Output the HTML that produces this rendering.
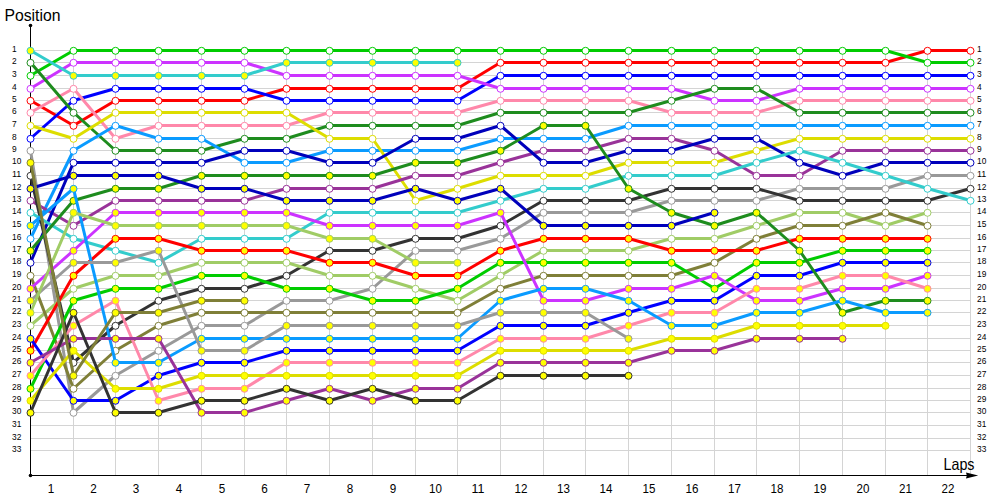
<!DOCTYPE html>
<html><head><meta charset="utf-8"><style>html,body{margin:0;padding:0;background:#fff;width:1000px;height:500px;overflow:hidden}svg{display:block}</style></head>
<body><svg width="1000" height="500" viewBox="0 0 1000 500">
<rect width="1000" height="500" fill="#fff"/>
<path d="M30.5 50.5H970.5M30.5 62.5H970.5M30.5 75.5H970.5M30.5 88.5H970.5M30.5 100.5H970.5M30.5 112.5H970.5M30.5 125.5H970.5M30.5 138.5H970.5M30.5 150.5H970.5M30.5 162.5H970.5M30.5 175.5H970.5M30.5 188.5H970.5M30.5 200.5H970.5M30.5 212.5H970.5M30.5 225.5H970.5M30.5 238.5H970.5M30.5 250.5H970.5M30.5 262.5H970.5M30.5 275.5H970.5M30.5 288.5H970.5M30.5 300.5H970.5M30.5 312.5H970.5M30.5 325.5H970.5M30.5 338.5H970.5M30.5 350.5H970.5M30.5 362.5H970.5M30.5 375.5H970.5M30.5 388.5H970.5M30.5 400.5H970.5M30.5 412.5H970.5M30.5 425.5H970.5M30.5 438.5H970.5M30.5 450.5H970.5M73.5 50V475M115.5 50V475M158.5 50V475M201.5 50V475M244.5 50V475M286.5 50V475M329.5 50V475M372.5 50V475M415.5 50V475M457.5 50V475M500.5 50V475M543.5 50V475M585.5 50V475M628.5 50V475M671.5 50V475M714.5 50V475M756.5 50V475M799.5 50V475M842.5 50V475M885.5 50V475M927.5 50V475M970.5 50V475" stroke="#d4d4d4" stroke-width="1" fill="none"/>
<path d="M30.5 25.5V475.5H968" stroke="#000" stroke-width="1" fill="none"/>
<circle cx="30.5" cy="25.5" r="1.8" fill="#000"/><circle cx="30.5" cy="475.5" r="1.8" fill="#000"/>
<path d="M966 472.6L978.2 475.5L966 478.4L966.8 475.5Z" fill="#000"/>
<g font-family="Liberation Sans" font-size="9.8" fill="#000"><text x="12" y="52.1" textLength="4.65" lengthAdjust="spacingAndGlyphs">1</text><text x="977" y="52.1" textLength="4.65" lengthAdjust="spacingAndGlyphs">1</text><text x="12" y="64.1" textLength="4.65" lengthAdjust="spacingAndGlyphs">2</text><text x="977" y="64.1" textLength="4.65" lengthAdjust="spacingAndGlyphs">2</text><text x="12" y="77.1" textLength="4.65" lengthAdjust="spacingAndGlyphs">3</text><text x="977" y="77.1" textLength="4.65" lengthAdjust="spacingAndGlyphs">3</text><text x="12" y="90.1" textLength="4.65" lengthAdjust="spacingAndGlyphs">4</text><text x="977" y="90.1" textLength="4.65" lengthAdjust="spacingAndGlyphs">4</text><text x="12" y="102.1" textLength="4.65" lengthAdjust="spacingAndGlyphs">5</text><text x="977" y="102.1" textLength="4.65" lengthAdjust="spacingAndGlyphs">5</text><text x="12" y="114.1" textLength="4.65" lengthAdjust="spacingAndGlyphs">6</text><text x="977" y="114.1" textLength="4.65" lengthAdjust="spacingAndGlyphs">6</text><text x="12" y="127.1" textLength="4.65" lengthAdjust="spacingAndGlyphs">7</text><text x="977" y="127.1" textLength="4.65" lengthAdjust="spacingAndGlyphs">7</text><text x="12" y="140.1" textLength="4.65" lengthAdjust="spacingAndGlyphs">8</text><text x="977" y="140.1" textLength="4.65" lengthAdjust="spacingAndGlyphs">8</text><text x="12" y="152.1" textLength="4.65" lengthAdjust="spacingAndGlyphs">9</text><text x="977" y="152.1" textLength="4.65" lengthAdjust="spacingAndGlyphs">9</text><text x="12" y="164.1" textLength="9.3" lengthAdjust="spacingAndGlyphs">10</text><text x="977" y="164.1" textLength="9.3" lengthAdjust="spacingAndGlyphs">10</text><text x="12" y="177.1" textLength="9.3" lengthAdjust="spacingAndGlyphs">11</text><text x="977" y="177.1" textLength="9.3" lengthAdjust="spacingAndGlyphs">11</text><text x="12" y="190.1" textLength="9.3" lengthAdjust="spacingAndGlyphs">12</text><text x="977" y="190.1" textLength="9.3" lengthAdjust="spacingAndGlyphs">12</text><text x="12" y="202.1" textLength="9.3" lengthAdjust="spacingAndGlyphs">13</text><text x="977" y="202.1" textLength="9.3" lengthAdjust="spacingAndGlyphs">13</text><text x="12" y="214.1" textLength="9.3" lengthAdjust="spacingAndGlyphs">14</text><text x="977" y="214.1" textLength="9.3" lengthAdjust="spacingAndGlyphs">14</text><text x="12" y="227.1" textLength="9.3" lengthAdjust="spacingAndGlyphs">15</text><text x="977" y="227.1" textLength="9.3" lengthAdjust="spacingAndGlyphs">15</text><text x="12" y="240.1" textLength="9.3" lengthAdjust="spacingAndGlyphs">16</text><text x="977" y="240.1" textLength="9.3" lengthAdjust="spacingAndGlyphs">16</text><text x="12" y="252.1" textLength="9.3" lengthAdjust="spacingAndGlyphs">17</text><text x="977" y="252.1" textLength="9.3" lengthAdjust="spacingAndGlyphs">17</text><text x="12" y="264.1" textLength="9.3" lengthAdjust="spacingAndGlyphs">18</text><text x="977" y="264.1" textLength="9.3" lengthAdjust="spacingAndGlyphs">18</text><text x="12" y="277.1" textLength="9.3" lengthAdjust="spacingAndGlyphs">19</text><text x="977" y="277.1" textLength="9.3" lengthAdjust="spacingAndGlyphs">19</text><text x="12" y="290.1" textLength="9.3" lengthAdjust="spacingAndGlyphs">20</text><text x="977" y="290.1" textLength="9.3" lengthAdjust="spacingAndGlyphs">20</text><text x="12" y="302.1" textLength="9.3" lengthAdjust="spacingAndGlyphs">21</text><text x="977" y="302.1" textLength="9.3" lengthAdjust="spacingAndGlyphs">21</text><text x="12" y="314.1" textLength="9.3" lengthAdjust="spacingAndGlyphs">22</text><text x="977" y="314.1" textLength="9.3" lengthAdjust="spacingAndGlyphs">22</text><text x="12" y="327.1" textLength="9.3" lengthAdjust="spacingAndGlyphs">23</text><text x="977" y="327.1" textLength="9.3" lengthAdjust="spacingAndGlyphs">23</text><text x="12" y="340.1" textLength="9.3" lengthAdjust="spacingAndGlyphs">24</text><text x="977" y="340.1" textLength="9.3" lengthAdjust="spacingAndGlyphs">24</text><text x="12" y="352.1" textLength="9.3" lengthAdjust="spacingAndGlyphs">25</text><text x="977" y="352.1" textLength="9.3" lengthAdjust="spacingAndGlyphs">25</text><text x="12" y="364.1" textLength="9.3" lengthAdjust="spacingAndGlyphs">26</text><text x="977" y="364.1" textLength="9.3" lengthAdjust="spacingAndGlyphs">26</text><text x="12" y="377.1" textLength="9.3" lengthAdjust="spacingAndGlyphs">27</text><text x="977" y="377.1" textLength="9.3" lengthAdjust="spacingAndGlyphs">27</text><text x="12" y="390.1" textLength="9.3" lengthAdjust="spacingAndGlyphs">28</text><text x="977" y="390.1" textLength="9.3" lengthAdjust="spacingAndGlyphs">28</text><text x="12" y="402.1" textLength="9.3" lengthAdjust="spacingAndGlyphs">29</text><text x="977" y="402.1" textLength="9.3" lengthAdjust="spacingAndGlyphs">29</text><text x="12" y="414.1" textLength="9.3" lengthAdjust="spacingAndGlyphs">30</text><text x="977" y="414.1" textLength="9.3" lengthAdjust="spacingAndGlyphs">30</text><text x="12" y="427.1" textLength="9.3" lengthAdjust="spacingAndGlyphs">31</text><text x="977" y="427.1" textLength="9.3" lengthAdjust="spacingAndGlyphs">31</text><text x="12" y="440.1" textLength="9.3" lengthAdjust="spacingAndGlyphs">32</text><text x="977" y="440.1" textLength="9.3" lengthAdjust="spacingAndGlyphs">32</text><text x="12" y="452.1" textLength="9.3" lengthAdjust="spacingAndGlyphs">33</text><text x="977" y="452.1" textLength="9.3" lengthAdjust="spacingAndGlyphs">33</text></g>
<g font-family="Liberation Sans" font-size="12.5" fill="#000" text-anchor="middle"><text x="51.0" y="493" textLength="6.5" lengthAdjust="spacingAndGlyphs">1</text><text x="93.5" y="493" textLength="6.5" lengthAdjust="spacingAndGlyphs">2</text><text x="136.0" y="493" textLength="6.5" lengthAdjust="spacingAndGlyphs">3</text><text x="179.0" y="493" textLength="6.5" lengthAdjust="spacingAndGlyphs">4</text><text x="222.0" y="493" textLength="6.5" lengthAdjust="spacingAndGlyphs">5</text><text x="264.5" y="493" textLength="6.5" lengthAdjust="spacingAndGlyphs">6</text><text x="307.0" y="493" textLength="6.5" lengthAdjust="spacingAndGlyphs">7</text><text x="350.0" y="493" textLength="6.5" lengthAdjust="spacingAndGlyphs">8</text><text x="393.0" y="493" textLength="6.5" lengthAdjust="spacingAndGlyphs">9</text><text x="435.5" y="493" textLength="12.9" lengthAdjust="spacingAndGlyphs">10</text><text x="478.0" y="493" textLength="12.9" lengthAdjust="spacingAndGlyphs">11</text><text x="521.0" y="493" textLength="12.9" lengthAdjust="spacingAndGlyphs">12</text><text x="563.5" y="493" textLength="12.9" lengthAdjust="spacingAndGlyphs">13</text><text x="606.0" y="493" textLength="12.9" lengthAdjust="spacingAndGlyphs">14</text><text x="649.0" y="493" textLength="12.9" lengthAdjust="spacingAndGlyphs">15</text><text x="692.0" y="493" textLength="12.9" lengthAdjust="spacingAndGlyphs">16</text><text x="734.5" y="493" textLength="12.9" lengthAdjust="spacingAndGlyphs">17</text><text x="777.0" y="493" textLength="12.9" lengthAdjust="spacingAndGlyphs">18</text><text x="820.0" y="493" textLength="12.9" lengthAdjust="spacingAndGlyphs">19</text><text x="863.0" y="493" textLength="12.9" lengthAdjust="spacingAndGlyphs">20</text><text x="905.5" y="493" textLength="12.9" lengthAdjust="spacingAndGlyphs">21</text><text x="948.0" y="493" textLength="12.9" lengthAdjust="spacingAndGlyphs">22</text></g>
<text x="4.5" y="21" font-family="Liberation Sans" font-size="16.5" fill="#000" textLength="56" lengthAdjust="spacingAndGlyphs">Position</text>
<text x="943.5" y="469.5" font-family="Liberation Sans" font-size="16.5" fill="#000" textLength="31" lengthAdjust="spacingAndGlyphs">Laps</text>
<path d="M30.5 100.5L73.5 125.5L115.5 100.5L158.5 100.5L201.5 100.5L244.5 100.5L286.5 88.5L329.5 88.5L372.5 88.5L415.5 88.5L457.5 88.5L500.5 62.5L543.5 62.5L585.5 62.5L628.5 62.5L671.5 62.5L714.5 62.5L756.5 62.5L799.5 62.5L842.5 62.5L885.5 62.5L927.5 50.5L970.5 50.5" stroke="#ff0000" stroke-width="3" fill="none" stroke-linejoin="round"/><circle cx="30.5" cy="100.8" r="3.5" fill="#ffffff" stroke="#ff0000" stroke-width="1.0"/><circle cx="73.5" cy="125.8" r="3.5" fill="#ffffff" stroke="#ff0000" stroke-width="1.0"/><circle cx="115.5" cy="100.8" r="3.5" fill="#ffffff" stroke="#ff0000" stroke-width="1.0"/><circle cx="158.5" cy="100.8" r="3.5" fill="#ffffff" stroke="#ff0000" stroke-width="1.0"/><circle cx="201.5" cy="100.8" r="3.5" fill="#ffffff" stroke="#ff0000" stroke-width="1.0"/><circle cx="244.5" cy="100.8" r="3.5" fill="#ffffff" stroke="#ff0000" stroke-width="1.0"/><circle cx="286.5" cy="88.8" r="3.5" fill="#ffffff" stroke="#ff0000" stroke-width="1.0"/><circle cx="329.5" cy="88.8" r="3.5" fill="#ffffff" stroke="#ff0000" stroke-width="1.0"/><circle cx="372.5" cy="88.8" r="3.5" fill="#ffffff" stroke="#ff0000" stroke-width="1.0"/><circle cx="415.5" cy="88.8" r="3.5" fill="#ffffff" stroke="#ff0000" stroke-width="1.0"/><circle cx="457.5" cy="88.8" r="3.5" fill="#ffffff" stroke="#ff0000" stroke-width="1.0"/><circle cx="500.5" cy="62.8" r="3.5" fill="#ffffff" stroke="#ff0000" stroke-width="1.0"/><circle cx="543.5" cy="62.8" r="3.5" fill="#ffffff" stroke="#ff0000" stroke-width="1.0"/><circle cx="585.5" cy="62.8" r="3.5" fill="#ffffff" stroke="#ff0000" stroke-width="1.0"/><circle cx="628.5" cy="62.8" r="3.5" fill="#ffffff" stroke="#ff0000" stroke-width="1.0"/><circle cx="671.5" cy="62.8" r="3.5" fill="#ffffff" stroke="#ff0000" stroke-width="1.0"/><circle cx="714.5" cy="62.8" r="3.5" fill="#ffffff" stroke="#ff0000" stroke-width="1.0"/><circle cx="756.5" cy="62.8" r="3.5" fill="#ffffff" stroke="#ff0000" stroke-width="1.0"/><circle cx="799.5" cy="62.8" r="3.5" fill="#ffffff" stroke="#ff0000" stroke-width="1.0"/><circle cx="842.5" cy="62.8" r="3.5" fill="#ffffff" stroke="#ff0000" stroke-width="1.0"/><circle cx="885.5" cy="62.8" r="3.5" fill="#ffffff" stroke="#ff0000" stroke-width="1.0"/><circle cx="927.5" cy="50.8" r="3.5" fill="#ffffff" stroke="#ff0000" stroke-width="1.0"/><circle cx="970.5" cy="50.8" r="3.5" fill="#ffffff" stroke="#ff0000" stroke-width="1.0"/>
<path d="M30.5 75.5L73.5 50.5L115.5 50.5L158.5 50.5L201.5 50.5L244.5 50.5L286.5 50.5L329.5 50.5L372.5 50.5L415.5 50.5L457.5 50.5L500.5 50.5L543.5 50.5L585.5 50.5L628.5 50.5L671.5 50.5L714.5 50.5L756.5 50.5L799.5 50.5L842.5 50.5L885.5 50.5L927.5 62.5L970.5 62.5" stroke="#00cc00" stroke-width="3" fill="none" stroke-linejoin="round"/><circle cx="30.5" cy="75.8" r="3.5" fill="#ffffff" stroke="#00cc00" stroke-width="1.0"/><circle cx="73.5" cy="50.8" r="3.5" fill="#ffffff" stroke="#00cc00" stroke-width="1.0"/><circle cx="115.5" cy="50.8" r="3.5" fill="#ffffff" stroke="#00cc00" stroke-width="1.0"/><circle cx="158.5" cy="50.8" r="3.5" fill="#ffffff" stroke="#00cc00" stroke-width="1.0"/><circle cx="201.5" cy="50.8" r="3.5" fill="#ffffff" stroke="#00cc00" stroke-width="1.0"/><circle cx="244.5" cy="50.8" r="3.5" fill="#ffffff" stroke="#00cc00" stroke-width="1.0"/><circle cx="286.5" cy="50.8" r="3.5" fill="#ffffff" stroke="#00cc00" stroke-width="1.0"/><circle cx="329.5" cy="50.8" r="3.5" fill="#ffffff" stroke="#00cc00" stroke-width="1.0"/><circle cx="372.5" cy="50.8" r="3.5" fill="#ffffff" stroke="#00cc00" stroke-width="1.0"/><circle cx="415.5" cy="50.8" r="3.5" fill="#ffffff" stroke="#00cc00" stroke-width="1.0"/><circle cx="457.5" cy="50.8" r="3.5" fill="#ffffff" stroke="#00cc00" stroke-width="1.0"/><circle cx="500.5" cy="50.8" r="3.5" fill="#ffffff" stroke="#00cc00" stroke-width="1.0"/><circle cx="543.5" cy="50.8" r="3.5" fill="#ffffff" stroke="#00cc00" stroke-width="1.0"/><circle cx="585.5" cy="50.8" r="3.5" fill="#ffffff" stroke="#00cc00" stroke-width="1.0"/><circle cx="628.5" cy="50.8" r="3.5" fill="#ffffff" stroke="#00cc00" stroke-width="1.0"/><circle cx="671.5" cy="50.8" r="3.5" fill="#ffffff" stroke="#00cc00" stroke-width="1.0"/><circle cx="714.5" cy="50.8" r="3.5" fill="#ffffff" stroke="#00cc00" stroke-width="1.0"/><circle cx="756.5" cy="50.8" r="3.5" fill="#ffffff" stroke="#00cc00" stroke-width="1.0"/><circle cx="799.5" cy="50.8" r="3.5" fill="#ffffff" stroke="#00cc00" stroke-width="1.0"/><circle cx="842.5" cy="50.8" r="3.5" fill="#ffffff" stroke="#00cc00" stroke-width="1.0"/><circle cx="885.5" cy="50.8" r="3.5" fill="#ffffff" stroke="#00cc00" stroke-width="1.0"/><circle cx="927.5" cy="62.8" r="3.5" fill="#ffffff" stroke="#00cc00" stroke-width="1.0"/><circle cx="970.5" cy="62.8" r="3.5" fill="#ffffff" stroke="#00cc00" stroke-width="1.0"/>
<path d="M30.5 138.5L73.5 100.5L115.5 88.5L158.5 88.5L201.5 88.5L244.5 88.5L286.5 100.5L329.5 100.5L372.5 100.5L415.5 100.5L457.5 100.5L500.5 75.5L543.5 75.5L585.5 75.5L628.5 75.5L671.5 75.5L714.5 75.5L756.5 75.5L799.5 75.5L842.5 75.5L885.5 75.5L927.5 75.5L970.5 75.5" stroke="#0000ff" stroke-width="3" fill="none" stroke-linejoin="round"/><circle cx="30.5" cy="138.8" r="3.5" fill="#ffffff" stroke="#0000ff" stroke-width="1.0"/><circle cx="73.5" cy="100.8" r="3.5" fill="#ffffff" stroke="#0000ff" stroke-width="1.0"/><circle cx="115.5" cy="88.8" r="3.5" fill="#ffffff" stroke="#0000ff" stroke-width="1.0"/><circle cx="158.5" cy="88.8" r="3.5" fill="#ffffff" stroke="#0000ff" stroke-width="1.0"/><circle cx="201.5" cy="88.8" r="3.5" fill="#ffffff" stroke="#0000ff" stroke-width="1.0"/><circle cx="244.5" cy="88.8" r="3.5" fill="#ffffff" stroke="#0000ff" stroke-width="1.0"/><circle cx="286.5" cy="100.8" r="3.5" fill="#ffffff" stroke="#0000ff" stroke-width="1.0"/><circle cx="329.5" cy="100.8" r="3.5" fill="#ffffff" stroke="#0000ff" stroke-width="1.0"/><circle cx="372.5" cy="100.8" r="3.5" fill="#ffffff" stroke="#0000ff" stroke-width="1.0"/><circle cx="415.5" cy="100.8" r="3.5" fill="#ffffff" stroke="#0000ff" stroke-width="1.0"/><circle cx="457.5" cy="100.8" r="3.5" fill="#ffffff" stroke="#0000ff" stroke-width="1.0"/><circle cx="500.5" cy="75.8" r="3.5" fill="#ffffff" stroke="#0000ff" stroke-width="1.0"/><circle cx="543.5" cy="75.8" r="3.5" fill="#ffffff" stroke="#0000ff" stroke-width="1.0"/><circle cx="585.5" cy="75.8" r="3.5" fill="#ffffff" stroke="#0000ff" stroke-width="1.0"/><circle cx="628.5" cy="75.8" r="3.5" fill="#ffffff" stroke="#0000ff" stroke-width="1.0"/><circle cx="671.5" cy="75.8" r="3.5" fill="#ffffff" stroke="#0000ff" stroke-width="1.0"/><circle cx="714.5" cy="75.8" r="3.5" fill="#ffffff" stroke="#0000ff" stroke-width="1.0"/><circle cx="756.5" cy="75.8" r="3.5" fill="#ffffff" stroke="#0000ff" stroke-width="1.0"/><circle cx="799.5" cy="75.8" r="3.5" fill="#ffffff" stroke="#0000ff" stroke-width="1.0"/><circle cx="842.5" cy="75.8" r="3.5" fill="#ffffff" stroke="#0000ff" stroke-width="1.0"/><circle cx="885.5" cy="75.8" r="3.5" fill="#ffffff" stroke="#0000ff" stroke-width="1.0"/><circle cx="927.5" cy="75.8" r="3.5" fill="#ffffff" stroke="#0000ff" stroke-width="1.0"/><circle cx="970.5" cy="75.8" r="3.5" fill="#ffffff" stroke="#0000ff" stroke-width="1.0"/>
<path d="M30.5 88.5L73.5 62.5L115.5 62.5L158.5 62.5L201.5 62.5L244.5 62.5L286.5 75.5L329.5 75.5L372.5 75.5L415.5 75.5L457.5 75.5L500.5 88.5L543.5 88.5L585.5 88.5L628.5 88.5L671.5 88.5L714.5 100.5L756.5 100.5L799.5 88.5L842.5 88.5L885.5 88.5L927.5 88.5L970.5 88.5" stroke="#cc33ff" stroke-width="3" fill="none" stroke-linejoin="round"/><circle cx="30.5" cy="88.8" r="3.5" fill="#ffffff" stroke="#cc33ff" stroke-width="1.0"/><circle cx="73.5" cy="62.8" r="3.5" fill="#ffffff" stroke="#cc33ff" stroke-width="1.0"/><circle cx="115.5" cy="62.8" r="3.5" fill="#ffffff" stroke="#cc33ff" stroke-width="1.0"/><circle cx="158.5" cy="62.8" r="3.5" fill="#ffffff" stroke="#cc33ff" stroke-width="1.0"/><circle cx="201.5" cy="62.8" r="3.5" fill="#ffffff" stroke="#cc33ff" stroke-width="1.0"/><circle cx="244.5" cy="62.8" r="3.5" fill="#ffffff" stroke="#cc33ff" stroke-width="1.0"/><circle cx="286.5" cy="75.8" r="3.5" fill="#ffffff" stroke="#cc33ff" stroke-width="1.0"/><circle cx="329.5" cy="75.8" r="3.5" fill="#ffffff" stroke="#cc33ff" stroke-width="1.0"/><circle cx="372.5" cy="75.8" r="3.5" fill="#ffffff" stroke="#cc33ff" stroke-width="1.0"/><circle cx="415.5" cy="75.8" r="3.5" fill="#ffffff" stroke="#cc33ff" stroke-width="1.0"/><circle cx="457.5" cy="75.8" r="3.5" fill="#ffffff" stroke="#cc33ff" stroke-width="1.0"/><circle cx="500.5" cy="88.8" r="3.5" fill="#ffffff" stroke="#cc33ff" stroke-width="1.0"/><circle cx="543.5" cy="88.8" r="3.5" fill="#ffffff" stroke="#cc33ff" stroke-width="1.0"/><circle cx="585.5" cy="88.8" r="3.5" fill="#ffffff" stroke="#cc33ff" stroke-width="1.0"/><circle cx="628.5" cy="88.8" r="3.5" fill="#ffffff" stroke="#cc33ff" stroke-width="1.0"/><circle cx="671.5" cy="88.8" r="3.5" fill="#ffffff" stroke="#cc33ff" stroke-width="1.0"/><circle cx="714.5" cy="100.8" r="3.5" fill="#ffffff" stroke="#cc33ff" stroke-width="1.0"/><circle cx="756.5" cy="100.8" r="3.5" fill="#ffffff" stroke="#cc33ff" stroke-width="1.0"/><circle cx="799.5" cy="88.8" r="3.5" fill="#ffffff" stroke="#cc33ff" stroke-width="1.0"/><circle cx="842.5" cy="88.8" r="3.5" fill="#ffffff" stroke="#cc33ff" stroke-width="1.0"/><circle cx="885.5" cy="88.8" r="3.5" fill="#ffffff" stroke="#cc33ff" stroke-width="1.0"/><circle cx="927.5" cy="88.8" r="3.5" fill="#ffffff" stroke="#cc33ff" stroke-width="1.0"/><circle cx="970.5" cy="88.8" r="3.5" fill="#ffffff" stroke="#cc33ff" stroke-width="1.0"/>
<path d="M30.5 112.5L73.5 88.5L115.5 138.5L158.5 125.5L201.5 125.5L244.5 125.5L286.5 125.5L329.5 112.5L372.5 112.5L415.5 112.5L457.5 112.5L500.5 100.5L543.5 100.5L585.5 100.5L628.5 100.5L671.5 112.5L714.5 112.5L756.5 112.5L799.5 100.5L842.5 100.5L885.5 100.5L927.5 100.5L970.5 100.5" stroke="#ff88aa" stroke-width="3" fill="none" stroke-linejoin="round"/><circle cx="30.5" cy="112.8" r="3.5" fill="#ffffff" stroke="#ff88aa" stroke-width="1.0"/><circle cx="73.5" cy="88.8" r="3.5" fill="#ffffff" stroke="#ff88aa" stroke-width="1.0"/><circle cx="115.5" cy="138.8" r="3.5" fill="#ffffff" stroke="#ff88aa" stroke-width="1.0"/><circle cx="158.5" cy="125.8" r="3.5" fill="#ffffff" stroke="#ff88aa" stroke-width="1.0"/><circle cx="201.5" cy="125.8" r="3.5" fill="#ffffff" stroke="#ff88aa" stroke-width="1.0"/><circle cx="244.5" cy="125.8" r="3.5" fill="#ffffff" stroke="#ff88aa" stroke-width="1.0"/><circle cx="286.5" cy="125.8" r="3.5" fill="#ffffff" stroke="#ff88aa" stroke-width="1.0"/><circle cx="329.5" cy="112.8" r="3.5" fill="#ffffff" stroke="#ff88aa" stroke-width="1.0"/><circle cx="372.5" cy="112.8" r="3.5" fill="#ffffff" stroke="#ff88aa" stroke-width="1.0"/><circle cx="415.5" cy="112.8" r="3.5" fill="#ffffff" stroke="#ff88aa" stroke-width="1.0"/><circle cx="457.5" cy="112.8" r="3.5" fill="#ffffff" stroke="#ff88aa" stroke-width="1.0"/><circle cx="500.5" cy="100.8" r="3.5" fill="#ffffff" stroke="#ff88aa" stroke-width="1.0"/><circle cx="543.5" cy="100.8" r="3.5" fill="#ffffff" stroke="#ff88aa" stroke-width="1.0"/><circle cx="585.5" cy="100.8" r="3.5" fill="#ffffff" stroke="#ff88aa" stroke-width="1.0"/><circle cx="628.5" cy="100.8" r="3.5" fill="#ffffff" stroke="#ff88aa" stroke-width="1.0"/><circle cx="671.5" cy="112.8" r="3.5" fill="#ffffff" stroke="#ff88aa" stroke-width="1.0"/><circle cx="714.5" cy="112.8" r="3.5" fill="#ffffff" stroke="#ff88aa" stroke-width="1.0"/><circle cx="756.5" cy="112.8" r="3.5" fill="#ffffff" stroke="#ff88aa" stroke-width="1.0"/><circle cx="799.5" cy="100.8" r="3.5" fill="#ffffff" stroke="#ff88aa" stroke-width="1.0"/><circle cx="842.5" cy="100.8" r="3.5" fill="#ffffff" stroke="#ff88aa" stroke-width="1.0"/><circle cx="885.5" cy="100.8" r="3.5" fill="#ffffff" stroke="#ff88aa" stroke-width="1.0"/><circle cx="927.5" cy="100.8" r="3.5" fill="#ffffff" stroke="#ff88aa" stroke-width="1.0"/><circle cx="970.5" cy="100.8" r="3.5" fill="#ffffff" stroke="#ff88aa" stroke-width="1.0"/>
<path d="M30.5 62.5L73.5 112.5L115.5 150.5L158.5 150.5L201.5 150.5L244.5 138.5L286.5 138.5L329.5 125.5L372.5 125.5L415.5 125.5L457.5 125.5L500.5 112.5L543.5 112.5L585.5 112.5L628.5 112.5L671.5 100.5L714.5 88.5L756.5 88.5L799.5 112.5L842.5 112.5L885.5 112.5L927.5 112.5L970.5 112.5" stroke="#1e8c1e" stroke-width="3" fill="none" stroke-linejoin="round"/><circle cx="30.5" cy="62.8" r="3.5" fill="#ffffff" stroke="#1e8c1e" stroke-width="1.0"/><circle cx="73.5" cy="112.8" r="3.5" fill="#ffffff" stroke="#1e8c1e" stroke-width="1.0"/><circle cx="115.5" cy="150.8" r="3.5" fill="#ffffff" stroke="#1e8c1e" stroke-width="1.0"/><circle cx="158.5" cy="150.8" r="3.5" fill="#ffffff" stroke="#1e8c1e" stroke-width="1.0"/><circle cx="201.5" cy="150.8" r="3.5" fill="#ffffff" stroke="#1e8c1e" stroke-width="1.0"/><circle cx="244.5" cy="138.8" r="3.5" fill="#ffffff" stroke="#1e8c1e" stroke-width="1.0"/><circle cx="286.5" cy="138.8" r="3.5" fill="#ffffff" stroke="#1e8c1e" stroke-width="1.0"/><circle cx="329.5" cy="125.8" r="3.5" fill="#ffffff" stroke="#1e8c1e" stroke-width="1.0"/><circle cx="372.5" cy="125.8" r="3.5" fill="#ffffff" stroke="#1e8c1e" stroke-width="1.0"/><circle cx="415.5" cy="125.8" r="3.5" fill="#ffffff" stroke="#1e8c1e" stroke-width="1.0"/><circle cx="457.5" cy="125.8" r="3.5" fill="#ffffff" stroke="#1e8c1e" stroke-width="1.0"/><circle cx="500.5" cy="112.8" r="3.5" fill="#ffffff" stroke="#1e8c1e" stroke-width="1.0"/><circle cx="543.5" cy="112.8" r="3.5" fill="#ffffff" stroke="#1e8c1e" stroke-width="1.0"/><circle cx="585.5" cy="112.8" r="3.5" fill="#ffffff" stroke="#1e8c1e" stroke-width="1.0"/><circle cx="628.5" cy="112.8" r="3.5" fill="#ffffff" stroke="#1e8c1e" stroke-width="1.0"/><circle cx="671.5" cy="100.8" r="3.5" fill="#ffffff" stroke="#1e8c1e" stroke-width="1.0"/><circle cx="714.5" cy="88.8" r="3.5" fill="#ffffff" stroke="#1e8c1e" stroke-width="1.0"/><circle cx="756.5" cy="88.8" r="3.5" fill="#ffffff" stroke="#1e8c1e" stroke-width="1.0"/><circle cx="799.5" cy="112.8" r="3.5" fill="#ffffff" stroke="#1e8c1e" stroke-width="1.0"/><circle cx="842.5" cy="112.8" r="3.5" fill="#ffffff" stroke="#1e8c1e" stroke-width="1.0"/><circle cx="885.5" cy="112.8" r="3.5" fill="#ffffff" stroke="#1e8c1e" stroke-width="1.0"/><circle cx="927.5" cy="112.8" r="3.5" fill="#ffffff" stroke="#1e8c1e" stroke-width="1.0"/><circle cx="970.5" cy="112.8" r="3.5" fill="#ffffff" stroke="#1e8c1e" stroke-width="1.0"/>
<path d="M30.5 238.5L73.5 150.5L115.5 125.5L158.5 138.5L201.5 138.5L244.5 162.5L286.5 162.5L329.5 150.5L372.5 150.5L415.5 150.5L457.5 150.5L500.5 138.5L543.5 138.5L585.5 138.5L628.5 125.5L671.5 125.5L714.5 125.5L756.5 125.5L799.5 125.5L842.5 125.5L885.5 125.5L927.5 125.5L970.5 125.5" stroke="#0a9bff" stroke-width="3" fill="none" stroke-linejoin="round"/><circle cx="30.5" cy="238.8" r="3.5" fill="#ffffff" stroke="#0a9bff" stroke-width="1.0"/><circle cx="73.5" cy="150.8" r="3.5" fill="#ffffff" stroke="#0a9bff" stroke-width="1.0"/><circle cx="115.5" cy="125.8" r="3.5" fill="#ffffff" stroke="#0a9bff" stroke-width="1.0"/><circle cx="158.5" cy="138.8" r="3.5" fill="#ffffff" stroke="#0a9bff" stroke-width="1.0"/><circle cx="201.5" cy="138.8" r="3.5" fill="#ffffff" stroke="#0a9bff" stroke-width="1.0"/><circle cx="244.5" cy="162.8" r="3.5" fill="#ffffff" stroke="#0a9bff" stroke-width="1.0"/><circle cx="286.5" cy="162.8" r="3.5" fill="#ffffff" stroke="#0a9bff" stroke-width="1.0"/><circle cx="329.5" cy="150.8" r="3.5" fill="#ffffff" stroke="#0a9bff" stroke-width="1.0"/><circle cx="372.5" cy="150.8" r="3.5" fill="#ffffff" stroke="#0a9bff" stroke-width="1.0"/><circle cx="415.5" cy="150.8" r="3.5" fill="#ffffff" stroke="#0a9bff" stroke-width="1.0"/><circle cx="457.5" cy="150.8" r="3.5" fill="#ffffff" stroke="#0a9bff" stroke-width="1.0"/><circle cx="500.5" cy="138.8" r="3.5" fill="#ffffff" stroke="#0a9bff" stroke-width="1.0"/><circle cx="543.5" cy="138.8" r="3.5" fill="#ffffff" stroke="#0a9bff" stroke-width="1.0"/><circle cx="585.5" cy="138.8" r="3.5" fill="#ffffff" stroke="#0a9bff" stroke-width="1.0"/><circle cx="628.5" cy="125.8" r="3.5" fill="#ffffff" stroke="#0a9bff" stroke-width="1.0"/><circle cx="671.5" cy="125.8" r="3.5" fill="#ffffff" stroke="#0a9bff" stroke-width="1.0"/><circle cx="714.5" cy="125.8" r="3.5" fill="#ffffff" stroke="#0a9bff" stroke-width="1.0"/><circle cx="756.5" cy="125.8" r="3.5" fill="#ffffff" stroke="#0a9bff" stroke-width="1.0"/><circle cx="799.5" cy="125.8" r="3.5" fill="#ffffff" stroke="#0a9bff" stroke-width="1.0"/><circle cx="842.5" cy="125.8" r="3.5" fill="#ffffff" stroke="#0a9bff" stroke-width="1.0"/><circle cx="885.5" cy="125.8" r="3.5" fill="#ffffff" stroke="#0a9bff" stroke-width="1.0"/><circle cx="927.5" cy="125.8" r="3.5" fill="#ffffff" stroke="#0a9bff" stroke-width="1.0"/><circle cx="970.5" cy="125.8" r="3.5" fill="#ffffff" stroke="#0a9bff" stroke-width="1.0"/>
<path d="M30.5 125.5L73.5 138.5L115.5 112.5L158.5 112.5L201.5 112.5L244.5 112.5L286.5 112.5L329.5 138.5L372.5 138.5L415.5 200.5L457.5 188.5L500.5 175.5L543.5 175.5L585.5 175.5L628.5 162.5L671.5 162.5L714.5 162.5L756.5 150.5L799.5 138.5L842.5 138.5L885.5 138.5L927.5 138.5L970.5 138.5" stroke="#dddd00" stroke-width="3" fill="none" stroke-linejoin="round"/><circle cx="30.5" cy="125.8" r="3.5" fill="#ffffff" stroke="#dddd00" stroke-width="1.0"/><circle cx="73.5" cy="138.8" r="3.5" fill="#ffffff" stroke="#dddd00" stroke-width="1.0"/><circle cx="115.5" cy="112.8" r="3.5" fill="#ffffff" stroke="#dddd00" stroke-width="1.0"/><circle cx="158.5" cy="112.8" r="3.5" fill="#ffffff" stroke="#dddd00" stroke-width="1.0"/><circle cx="201.5" cy="112.8" r="3.5" fill="#ffffff" stroke="#dddd00" stroke-width="1.0"/><circle cx="244.5" cy="112.8" r="3.5" fill="#ffffff" stroke="#dddd00" stroke-width="1.0"/><circle cx="286.5" cy="112.8" r="3.5" fill="#ffffff" stroke="#dddd00" stroke-width="1.0"/><circle cx="329.5" cy="138.8" r="3.5" fill="#ffffff" stroke="#dddd00" stroke-width="1.0"/><circle cx="372.5" cy="138.8" r="3.5" fill="#ffffff" stroke="#dddd00" stroke-width="1.0"/><circle cx="415.5" cy="200.8" r="3.5" fill="#ffffff" stroke="#dddd00" stroke-width="1.0"/><circle cx="457.5" cy="188.8" r="3.5" fill="#ffffff" stroke="#dddd00" stroke-width="1.0"/><circle cx="500.5" cy="175.8" r="3.5" fill="#ffffff" stroke="#dddd00" stroke-width="1.0"/><circle cx="543.5" cy="175.8" r="3.5" fill="#ffffff" stroke="#dddd00" stroke-width="1.0"/><circle cx="585.5" cy="175.8" r="3.5" fill="#ffffff" stroke="#dddd00" stroke-width="1.0"/><circle cx="628.5" cy="162.8" r="3.5" fill="#ffffff" stroke="#dddd00" stroke-width="1.0"/><circle cx="671.5" cy="162.8" r="3.5" fill="#ffffff" stroke="#dddd00" stroke-width="1.0"/><circle cx="714.5" cy="162.8" r="3.5" fill="#ffffff" stroke="#dddd00" stroke-width="1.0"/><circle cx="756.5" cy="150.8" r="3.5" fill="#ffffff" stroke="#dddd00" stroke-width="1.0"/><circle cx="799.5" cy="138.8" r="3.5" fill="#ffffff" stroke="#dddd00" stroke-width="1.0"/><circle cx="842.5" cy="138.8" r="3.5" fill="#ffffff" stroke="#dddd00" stroke-width="1.0"/><circle cx="885.5" cy="138.8" r="3.5" fill="#ffffff" stroke="#dddd00" stroke-width="1.0"/><circle cx="927.5" cy="138.8" r="3.5" fill="#ffffff" stroke="#dddd00" stroke-width="1.0"/><circle cx="970.5" cy="138.8" r="3.5" fill="#ffffff" stroke="#dddd00" stroke-width="1.0"/>
<path d="M30.5 200.5L73.5 225.5L115.5 200.5L158.5 200.5L201.5 200.5L244.5 200.5L286.5 188.5L329.5 188.5L372.5 188.5L415.5 175.5L457.5 175.5L500.5 162.5L543.5 150.5L585.5 150.5L628.5 138.5L671.5 138.5L714.5 150.5L756.5 175.5L799.5 175.5L842.5 150.5L885.5 150.5L927.5 150.5L970.5 150.5" stroke="#993399" stroke-width="3" fill="none" stroke-linejoin="round"/><circle cx="30.5" cy="200.8" r="3.5" fill="#ffffff" stroke="#993399" stroke-width="1.0"/><circle cx="73.5" cy="225.8" r="3.5" fill="#ffffff" stroke="#993399" stroke-width="1.0"/><circle cx="115.5" cy="200.8" r="3.5" fill="#ffffff" stroke="#993399" stroke-width="1.0"/><circle cx="158.5" cy="200.8" r="3.5" fill="#ffffff" stroke="#993399" stroke-width="1.0"/><circle cx="201.5" cy="200.8" r="3.5" fill="#ffffff" stroke="#993399" stroke-width="1.0"/><circle cx="244.5" cy="200.8" r="3.5" fill="#ffffff" stroke="#993399" stroke-width="1.0"/><circle cx="286.5" cy="188.8" r="3.5" fill="#ffffff" stroke="#993399" stroke-width="1.0"/><circle cx="329.5" cy="188.8" r="3.5" fill="#ffffff" stroke="#993399" stroke-width="1.0"/><circle cx="372.5" cy="188.8" r="3.5" fill="#ffffff" stroke="#993399" stroke-width="1.0"/><circle cx="415.5" cy="175.8" r="3.5" fill="#ffffff" stroke="#993399" stroke-width="1.0"/><circle cx="457.5" cy="175.8" r="3.5" fill="#ffffff" stroke="#993399" stroke-width="1.0"/><circle cx="500.5" cy="162.8" r="3.5" fill="#ffffff" stroke="#993399" stroke-width="1.0"/><circle cx="543.5" cy="150.8" r="3.5" fill="#ffffff" stroke="#993399" stroke-width="1.0"/><circle cx="585.5" cy="150.8" r="3.5" fill="#ffffff" stroke="#993399" stroke-width="1.0"/><circle cx="628.5" cy="138.8" r="3.5" fill="#ffffff" stroke="#993399" stroke-width="1.0"/><circle cx="671.5" cy="138.8" r="3.5" fill="#ffffff" stroke="#993399" stroke-width="1.0"/><circle cx="714.5" cy="150.8" r="3.5" fill="#ffffff" stroke="#993399" stroke-width="1.0"/><circle cx="756.5" cy="175.8" r="3.5" fill="#ffffff" stroke="#993399" stroke-width="1.0"/><circle cx="799.5" cy="175.8" r="3.5" fill="#ffffff" stroke="#993399" stroke-width="1.0"/><circle cx="842.5" cy="150.8" r="3.5" fill="#ffffff" stroke="#993399" stroke-width="1.0"/><circle cx="885.5" cy="150.8" r="3.5" fill="#ffffff" stroke="#993399" stroke-width="1.0"/><circle cx="927.5" cy="150.8" r="3.5" fill="#ffffff" stroke="#993399" stroke-width="1.0"/><circle cx="970.5" cy="150.8" r="3.5" fill="#ffffff" stroke="#993399" stroke-width="1.0"/>
<path d="M30.5 262.5L73.5 162.5L115.5 162.5L158.5 162.5L201.5 162.5L244.5 150.5L286.5 150.5L329.5 162.5L372.5 162.5L415.5 138.5L457.5 138.5L500.5 125.5L543.5 162.5L585.5 162.5L628.5 150.5L671.5 150.5L714.5 138.5L756.5 138.5L799.5 162.5L842.5 175.5L885.5 162.5L927.5 162.5L970.5 162.5" stroke="#0000bb" stroke-width="3" fill="none" stroke-linejoin="round"/><circle cx="30.5" cy="262.8" r="3.5" fill="#ffffff" stroke="#0000bb" stroke-width="1.0"/><circle cx="73.5" cy="162.8" r="3.5" fill="#ffffff" stroke="#0000bb" stroke-width="1.0"/><circle cx="115.5" cy="162.8" r="3.5" fill="#ffffff" stroke="#0000bb" stroke-width="1.0"/><circle cx="158.5" cy="162.8" r="3.5" fill="#ffffff" stroke="#0000bb" stroke-width="1.0"/><circle cx="201.5" cy="162.8" r="3.5" fill="#ffffff" stroke="#0000bb" stroke-width="1.0"/><circle cx="244.5" cy="150.8" r="3.5" fill="#ffffff" stroke="#0000bb" stroke-width="1.0"/><circle cx="286.5" cy="150.8" r="3.5" fill="#ffffff" stroke="#0000bb" stroke-width="1.0"/><circle cx="329.5" cy="162.8" r="3.5" fill="#ffffff" stroke="#0000bb" stroke-width="1.0"/><circle cx="372.5" cy="162.8" r="3.5" fill="#ffffff" stroke="#0000bb" stroke-width="1.0"/><circle cx="415.5" cy="138.8" r="3.5" fill="#ffffff" stroke="#0000bb" stroke-width="1.0"/><circle cx="457.5" cy="138.8" r="3.5" fill="#ffffff" stroke="#0000bb" stroke-width="1.0"/><circle cx="500.5" cy="125.8" r="3.5" fill="#ffffff" stroke="#0000bb" stroke-width="1.0"/><circle cx="543.5" cy="162.8" r="3.5" fill="#ffffff" stroke="#0000bb" stroke-width="1.0"/><circle cx="585.5" cy="162.8" r="3.5" fill="#ffffff" stroke="#0000bb" stroke-width="1.0"/><circle cx="628.5" cy="150.8" r="3.5" fill="#ffffff" stroke="#0000bb" stroke-width="1.0"/><circle cx="671.5" cy="150.8" r="3.5" fill="#ffffff" stroke="#0000bb" stroke-width="1.0"/><circle cx="714.5" cy="138.8" r="3.5" fill="#ffffff" stroke="#0000bb" stroke-width="1.0"/><circle cx="756.5" cy="138.8" r="3.5" fill="#ffffff" stroke="#0000bb" stroke-width="1.0"/><circle cx="799.5" cy="162.8" r="3.5" fill="#ffffff" stroke="#0000bb" stroke-width="1.0"/><circle cx="842.5" cy="175.8" r="3.5" fill="#ffffff" stroke="#0000bb" stroke-width="1.0"/><circle cx="885.5" cy="162.8" r="3.5" fill="#ffffff" stroke="#0000bb" stroke-width="1.0"/><circle cx="927.5" cy="162.8" r="3.5" fill="#ffffff" stroke="#0000bb" stroke-width="1.0"/><circle cx="970.5" cy="162.8" r="3.5" fill="#ffffff" stroke="#0000bb" stroke-width="1.0"/>
<path d="M30.5 150.5L73.5 412.5L115.5 375.5L158.5 350.5L201.5 325.5L244.5 325.5L286.5 300.5L329.5 300.5L372.5 288.5L415.5 250.5L457.5 250.5L500.5 238.5L543.5 212.5L585.5 212.5L628.5 212.5L671.5 200.5L714.5 200.5L756.5 200.5L799.5 188.5L842.5 188.5L885.5 188.5L927.5 175.5L970.5 175.5" stroke="#999999" stroke-width="3" fill="none" stroke-linejoin="round"/><circle cx="30.5" cy="150.8" r="3.5" fill="#ffffff" stroke="#999999" stroke-width="1.0"/><circle cx="73.5" cy="412.8" r="3.5" fill="#ffffff" stroke="#999999" stroke-width="1.0"/><circle cx="115.5" cy="375.8" r="3.5" fill="#ffffff" stroke="#999999" stroke-width="1.0"/><circle cx="158.5" cy="350.8" r="3.5" fill="#ffffff" stroke="#999999" stroke-width="1.0"/><circle cx="201.5" cy="325.8" r="3.5" fill="#ffffff" stroke="#999999" stroke-width="1.0"/><circle cx="244.5" cy="325.8" r="3.5" fill="#ffffff" stroke="#999999" stroke-width="1.0"/><circle cx="286.5" cy="300.8" r="3.5" fill="#ffffff" stroke="#999999" stroke-width="1.0"/><circle cx="329.5" cy="300.8" r="3.5" fill="#ffffff" stroke="#999999" stroke-width="1.0"/><circle cx="372.5" cy="288.8" r="3.5" fill="#ffffff" stroke="#999999" stroke-width="1.0"/><circle cx="415.5" cy="250.8" r="3.5" fill="#ffffff" stroke="#999999" stroke-width="1.0"/><circle cx="457.5" cy="250.8" r="3.5" fill="#ffffff" stroke="#999999" stroke-width="1.0"/><circle cx="500.5" cy="238.8" r="3.5" fill="#ffffff" stroke="#999999" stroke-width="1.0"/><circle cx="543.5" cy="212.8" r="3.5" fill="#ffffff" stroke="#999999" stroke-width="1.0"/><circle cx="585.5" cy="212.8" r="3.5" fill="#ffffff" stroke="#999999" stroke-width="1.0"/><circle cx="628.5" cy="212.8" r="3.5" fill="#ffffff" stroke="#999999" stroke-width="1.0"/><circle cx="671.5" cy="200.8" r="3.5" fill="#ffffff" stroke="#999999" stroke-width="1.0"/><circle cx="714.5" cy="200.8" r="3.5" fill="#ffffff" stroke="#999999" stroke-width="1.0"/><circle cx="756.5" cy="200.8" r="3.5" fill="#ffffff" stroke="#999999" stroke-width="1.0"/><circle cx="799.5" cy="188.8" r="3.5" fill="#ffffff" stroke="#999999" stroke-width="1.0"/><circle cx="842.5" cy="188.8" r="3.5" fill="#ffffff" stroke="#999999" stroke-width="1.0"/><circle cx="885.5" cy="188.8" r="3.5" fill="#ffffff" stroke="#999999" stroke-width="1.0"/><circle cx="927.5" cy="175.8" r="3.5" fill="#ffffff" stroke="#999999" stroke-width="1.0"/><circle cx="970.5" cy="175.8" r="3.5" fill="#ffffff" stroke="#999999" stroke-width="1.0"/>
<path d="M30.5 175.5L73.5 362.5L115.5 325.5L158.5 300.5L201.5 288.5L244.5 288.5L286.5 275.5L329.5 250.5L372.5 250.5L415.5 238.5L457.5 238.5L500.5 225.5L543.5 200.5L585.5 200.5L628.5 200.5L671.5 188.5L714.5 188.5L756.5 188.5L799.5 200.5L842.5 200.5L885.5 200.5L927.5 200.5L970.5 188.5" stroke="#333333" stroke-width="3" fill="none" stroke-linejoin="round"/><circle cx="30.5" cy="175.8" r="3.5" fill="#ffffff" stroke="#333333" stroke-width="1.0"/><circle cx="73.5" cy="362.8" r="3.5" fill="#ffffff" stroke="#333333" stroke-width="1.0"/><circle cx="115.5" cy="325.8" r="3.5" fill="#ffffff" stroke="#333333" stroke-width="1.0"/><circle cx="158.5" cy="300.8" r="3.5" fill="#ffffff" stroke="#333333" stroke-width="1.0"/><circle cx="201.5" cy="288.8" r="3.5" fill="#ffffff" stroke="#333333" stroke-width="1.0"/><circle cx="244.5" cy="288.8" r="3.5" fill="#ffffff" stroke="#333333" stroke-width="1.0"/><circle cx="286.5" cy="275.8" r="3.5" fill="#ffffff" stroke="#333333" stroke-width="1.0"/><circle cx="329.5" cy="250.8" r="3.5" fill="#ffffff" stroke="#333333" stroke-width="1.0"/><circle cx="372.5" cy="250.8" r="3.5" fill="#ffffff" stroke="#333333" stroke-width="1.0"/><circle cx="415.5" cy="238.8" r="3.5" fill="#ffffff" stroke="#333333" stroke-width="1.0"/><circle cx="457.5" cy="238.8" r="3.5" fill="#ffffff" stroke="#333333" stroke-width="1.0"/><circle cx="500.5" cy="225.8" r="3.5" fill="#ffffff" stroke="#333333" stroke-width="1.0"/><circle cx="543.5" cy="200.8" r="3.5" fill="#ffffff" stroke="#333333" stroke-width="1.0"/><circle cx="585.5" cy="200.8" r="3.5" fill="#ffffff" stroke="#333333" stroke-width="1.0"/><circle cx="628.5" cy="200.8" r="3.5" fill="#ffffff" stroke="#333333" stroke-width="1.0"/><circle cx="671.5" cy="188.8" r="3.5" fill="#ffffff" stroke="#333333" stroke-width="1.0"/><circle cx="714.5" cy="188.8" r="3.5" fill="#ffffff" stroke="#333333" stroke-width="1.0"/><circle cx="756.5" cy="188.8" r="3.5" fill="#ffffff" stroke="#333333" stroke-width="1.0"/><circle cx="799.5" cy="200.8" r="3.5" fill="#ffffff" stroke="#333333" stroke-width="1.0"/><circle cx="842.5" cy="200.8" r="3.5" fill="#ffffff" stroke="#333333" stroke-width="1.0"/><circle cx="885.5" cy="200.8" r="3.5" fill="#ffffff" stroke="#333333" stroke-width="1.0"/><circle cx="927.5" cy="200.8" r="3.5" fill="#ffffff" stroke="#333333" stroke-width="1.0"/><circle cx="970.5" cy="188.8" r="3.5" fill="#ffffff" stroke="#333333" stroke-width="1.0"/>
<path d="M30.5 212.5L73.5 238.5L115.5 250.5L158.5 262.5L201.5 238.5L244.5 238.5L286.5 238.5L329.5 212.5L372.5 212.5L415.5 212.5L457.5 212.5L500.5 200.5L543.5 188.5L585.5 188.5L628.5 175.5L671.5 175.5L714.5 175.5L756.5 162.5L799.5 150.5L842.5 162.5L885.5 175.5L927.5 188.5L970.5 200.5" stroke="#33cccc" stroke-width="3" fill="none" stroke-linejoin="round"/><circle cx="30.5" cy="212.8" r="3.5" fill="#ffffff" stroke="#33cccc" stroke-width="1.0"/><circle cx="73.5" cy="238.8" r="3.5" fill="#ffffff" stroke="#33cccc" stroke-width="1.0"/><circle cx="115.5" cy="250.8" r="3.5" fill="#ffffff" stroke="#33cccc" stroke-width="1.0"/><circle cx="158.5" cy="262.8" r="3.5" fill="#ffffff" stroke="#33cccc" stroke-width="1.0"/><circle cx="201.5" cy="238.8" r="3.5" fill="#ffffff" stroke="#33cccc" stroke-width="1.0"/><circle cx="244.5" cy="238.8" r="3.5" fill="#ffffff" stroke="#33cccc" stroke-width="1.0"/><circle cx="286.5" cy="238.8" r="3.5" fill="#ffffff" stroke="#33cccc" stroke-width="1.0"/><circle cx="329.5" cy="212.8" r="3.5" fill="#ffffff" stroke="#33cccc" stroke-width="1.0"/><circle cx="372.5" cy="212.8" r="3.5" fill="#ffffff" stroke="#33cccc" stroke-width="1.0"/><circle cx="415.5" cy="212.8" r="3.5" fill="#ffffff" stroke="#33cccc" stroke-width="1.0"/><circle cx="457.5" cy="212.8" r="3.5" fill="#ffffff" stroke="#33cccc" stroke-width="1.0"/><circle cx="500.5" cy="200.8" r="3.5" fill="#ffffff" stroke="#33cccc" stroke-width="1.0"/><circle cx="543.5" cy="188.8" r="3.5" fill="#ffffff" stroke="#33cccc" stroke-width="1.0"/><circle cx="585.5" cy="188.8" r="3.5" fill="#ffffff" stroke="#33cccc" stroke-width="1.0"/><circle cx="628.5" cy="175.8" r="3.5" fill="#ffffff" stroke="#33cccc" stroke-width="1.0"/><circle cx="671.5" cy="175.8" r="3.5" fill="#ffffff" stroke="#33cccc" stroke-width="1.0"/><circle cx="714.5" cy="175.8" r="3.5" fill="#ffffff" stroke="#33cccc" stroke-width="1.0"/><circle cx="756.5" cy="162.8" r="3.5" fill="#ffffff" stroke="#33cccc" stroke-width="1.0"/><circle cx="799.5" cy="150.8" r="3.5" fill="#ffffff" stroke="#33cccc" stroke-width="1.0"/><circle cx="842.5" cy="162.8" r="3.5" fill="#ffffff" stroke="#33cccc" stroke-width="1.0"/><circle cx="885.5" cy="175.8" r="3.5" fill="#ffffff" stroke="#33cccc" stroke-width="1.0"/><circle cx="927.5" cy="188.8" r="3.5" fill="#ffffff" stroke="#33cccc" stroke-width="1.0"/><circle cx="970.5" cy="200.8" r="3.5" fill="#ffffff" stroke="#33cccc" stroke-width="1.0"/>
<path d="M30.5 325.5L73.5 288.5L115.5 275.5L158.5 275.5L201.5 262.5L244.5 262.5L286.5 262.5L329.5 275.5L372.5 275.5L415.5 288.5L457.5 300.5L500.5 275.5L543.5 250.5L585.5 250.5L628.5 250.5L671.5 238.5L714.5 238.5L756.5 225.5L799.5 212.5L842.5 212.5L885.5 225.5L927.5 212.5" stroke="#a0cc66" stroke-width="3" fill="none" stroke-linejoin="round"/><circle cx="30.5" cy="325.8" r="3.5" fill="#ffffff" stroke="#a0cc66" stroke-width="1.0"/><circle cx="73.5" cy="288.8" r="3.5" fill="#ffffff" stroke="#a0cc66" stroke-width="1.0"/><circle cx="115.5" cy="275.8" r="3.5" fill="#ffffff" stroke="#a0cc66" stroke-width="1.0"/><circle cx="158.5" cy="275.8" r="3.5" fill="#ffffff" stroke="#a0cc66" stroke-width="1.0"/><circle cx="201.5" cy="262.8" r="3.5" fill="#ffffff" stroke="#a0cc66" stroke-width="1.0"/><circle cx="244.5" cy="262.8" r="3.5" fill="#ffffff" stroke="#a0cc66" stroke-width="1.0"/><circle cx="286.5" cy="262.8" r="3.5" fill="#ffffff" stroke="#a0cc66" stroke-width="1.0"/><circle cx="329.5" cy="275.8" r="3.5" fill="#ffffff" stroke="#a0cc66" stroke-width="1.0"/><circle cx="372.5" cy="275.8" r="3.5" fill="#ffffff" stroke="#a0cc66" stroke-width="1.0"/><circle cx="415.5" cy="288.8" r="3.5" fill="#ffffff" stroke="#a0cc66" stroke-width="1.0"/><circle cx="457.5" cy="300.8" r="3.5" fill="#ffffff" stroke="#a0cc66" stroke-width="1.0"/><circle cx="500.5" cy="275.8" r="3.5" fill="#ffffff" stroke="#a0cc66" stroke-width="1.0"/><circle cx="543.5" cy="250.8" r="3.5" fill="#ffffff" stroke="#a0cc66" stroke-width="1.0"/><circle cx="585.5" cy="250.8" r="3.5" fill="#ffffff" stroke="#a0cc66" stroke-width="1.0"/><circle cx="628.5" cy="250.8" r="3.5" fill="#ffffff" stroke="#a0cc66" stroke-width="1.0"/><circle cx="671.5" cy="238.8" r="3.5" fill="#ffffff" stroke="#a0cc66" stroke-width="1.0"/><circle cx="714.5" cy="238.8" r="3.5" fill="#ffffff" stroke="#a0cc66" stroke-width="1.0"/><circle cx="756.5" cy="225.8" r="3.5" fill="#ffffff" stroke="#a0cc66" stroke-width="1.0"/><circle cx="799.5" cy="212.8" r="3.5" fill="#ffffff" stroke="#a0cc66" stroke-width="1.0"/><circle cx="842.5" cy="212.8" r="3.5" fill="#ffffff" stroke="#a0cc66" stroke-width="1.0"/><circle cx="885.5" cy="225.8" r="3.5" fill="#ffffff" stroke="#a0cc66" stroke-width="1.0"/><circle cx="927.5" cy="212.8" r="3.5" fill="#ffffff" stroke="#a0cc66" stroke-width="1.0"/>
<path d="M30.5 275.5L73.5 388.5L115.5 350.5L158.5 325.5L201.5 312.5L244.5 312.5L286.5 312.5L329.5 312.5L372.5 312.5L415.5 312.5L457.5 312.5L500.5 288.5L543.5 275.5L585.5 275.5L628.5 275.5L671.5 275.5L714.5 262.5L756.5 238.5L799.5 225.5L842.5 225.5L885.5 212.5L927.5 225.5" stroke="#7f7f38" stroke-width="3" fill="none" stroke-linejoin="round"/><circle cx="30.5" cy="275.8" r="3.5" fill="#ffffff" stroke="#7f7f38" stroke-width="1.0"/><circle cx="73.5" cy="388.8" r="3.5" fill="#ffffff" stroke="#7f7f38" stroke-width="1.0"/><circle cx="115.5" cy="350.8" r="3.5" fill="#ffffff" stroke="#7f7f38" stroke-width="1.0"/><circle cx="158.5" cy="325.8" r="3.5" fill="#ffffff" stroke="#7f7f38" stroke-width="1.0"/><circle cx="201.5" cy="312.8" r="3.5" fill="#ffffff" stroke="#7f7f38" stroke-width="1.0"/><circle cx="244.5" cy="312.8" r="3.5" fill="#ffffff" stroke="#7f7f38" stroke-width="1.0"/><circle cx="286.5" cy="312.8" r="3.5" fill="#ffffff" stroke="#7f7f38" stroke-width="1.0"/><circle cx="329.5" cy="312.8" r="3.5" fill="#ffffff" stroke="#7f7f38" stroke-width="1.0"/><circle cx="372.5" cy="312.8" r="3.5" fill="#ffffff" stroke="#7f7f38" stroke-width="1.0"/><circle cx="415.5" cy="312.8" r="3.5" fill="#ffffff" stroke="#7f7f38" stroke-width="1.0"/><circle cx="457.5" cy="312.8" r="3.5" fill="#ffffff" stroke="#7f7f38" stroke-width="1.0"/><circle cx="500.5" cy="288.8" r="3.5" fill="#ffffff" stroke="#7f7f38" stroke-width="1.0"/><circle cx="543.5" cy="275.8" r="3.5" fill="#ffffff" stroke="#7f7f38" stroke-width="1.0"/><circle cx="585.5" cy="275.8" r="3.5" fill="#ffffff" stroke="#7f7f38" stroke-width="1.0"/><circle cx="628.5" cy="275.8" r="3.5" fill="#ffffff" stroke="#7f7f38" stroke-width="1.0"/><circle cx="671.5" cy="275.8" r="3.5" fill="#ffffff" stroke="#7f7f38" stroke-width="1.0"/><circle cx="714.5" cy="262.8" r="3.5" fill="#ffffff" stroke="#7f7f38" stroke-width="1.0"/><circle cx="756.5" cy="238.8" r="3.5" fill="#ffffff" stroke="#7f7f38" stroke-width="1.0"/><circle cx="799.5" cy="225.8" r="3.5" fill="#ffffff" stroke="#7f7f38" stroke-width="1.0"/><circle cx="842.5" cy="225.8" r="3.5" fill="#ffffff" stroke="#7f7f38" stroke-width="1.0"/><circle cx="885.5" cy="212.8" r="3.5" fill="#ffffff" stroke="#7f7f38" stroke-width="1.0"/><circle cx="927.5" cy="225.8" r="3.5" fill="#ffffff" stroke="#7f7f38" stroke-width="1.0"/>
<path d="M30.5 350.5L73.5 275.5L115.5 238.5L158.5 238.5L201.5 250.5L244.5 250.5L286.5 250.5L329.5 262.5L372.5 262.5L415.5 275.5L457.5 275.5L500.5 250.5L543.5 238.5L585.5 238.5L628.5 238.5L671.5 250.5L714.5 250.5L756.5 250.5L799.5 238.5L842.5 238.5L885.5 238.5L927.5 238.5" stroke="#ff0000" stroke-width="3" fill="none" stroke-linejoin="round"/><circle cx="30.5" cy="350.8" r="3.5" fill="#ffff00" stroke="#ff0000" stroke-width="1.0"/><circle cx="73.5" cy="275.8" r="3.5" fill="#ffff00" stroke="#ff0000" stroke-width="1.0"/><circle cx="115.5" cy="238.8" r="3.5" fill="#ffff00" stroke="#ff0000" stroke-width="1.0"/><circle cx="158.5" cy="238.8" r="3.5" fill="#ffff00" stroke="#ff0000" stroke-width="1.0"/><circle cx="201.5" cy="250.8" r="3.5" fill="#ffff00" stroke="#ff0000" stroke-width="1.0"/><circle cx="244.5" cy="250.8" r="3.5" fill="#ffff00" stroke="#ff0000" stroke-width="1.0"/><circle cx="286.5" cy="250.8" r="3.5" fill="#ffff00" stroke="#ff0000" stroke-width="1.0"/><circle cx="329.5" cy="262.8" r="3.5" fill="#ffff00" stroke="#ff0000" stroke-width="1.0"/><circle cx="372.5" cy="262.8" r="3.5" fill="#ffff00" stroke="#ff0000" stroke-width="1.0"/><circle cx="415.5" cy="275.8" r="3.5" fill="#ffff00" stroke="#ff0000" stroke-width="1.0"/><circle cx="457.5" cy="275.8" r="3.5" fill="#ffff00" stroke="#ff0000" stroke-width="1.0"/><circle cx="500.5" cy="250.8" r="3.5" fill="#ffff00" stroke="#ff0000" stroke-width="1.0"/><circle cx="543.5" cy="238.8" r="3.5" fill="#ffff00" stroke="#ff0000" stroke-width="1.0"/><circle cx="585.5" cy="238.8" r="3.5" fill="#ffff00" stroke="#ff0000" stroke-width="1.0"/><circle cx="628.5" cy="238.8" r="3.5" fill="#ffff00" stroke="#ff0000" stroke-width="1.0"/><circle cx="671.5" cy="250.8" r="3.5" fill="#ffff00" stroke="#ff0000" stroke-width="1.0"/><circle cx="714.5" cy="250.8" r="3.5" fill="#ffff00" stroke="#ff0000" stroke-width="1.0"/><circle cx="756.5" cy="250.8" r="3.5" fill="#ffff00" stroke="#ff0000" stroke-width="1.0"/><circle cx="799.5" cy="238.8" r="3.5" fill="#ffff00" stroke="#ff0000" stroke-width="1.0"/><circle cx="842.5" cy="238.8" r="3.5" fill="#ffff00" stroke="#ff0000" stroke-width="1.0"/><circle cx="885.5" cy="238.8" r="3.5" fill="#ffff00" stroke="#ff0000" stroke-width="1.0"/><circle cx="927.5" cy="238.8" r="3.5" fill="#ffff00" stroke="#ff0000" stroke-width="1.0"/>
<path d="M30.5 388.5L73.5 300.5L115.5 288.5L158.5 288.5L201.5 275.5L244.5 275.5L286.5 288.5L329.5 288.5L372.5 300.5L415.5 300.5L457.5 288.5L500.5 262.5L543.5 262.5L585.5 262.5L628.5 262.5L671.5 262.5L714.5 288.5L756.5 262.5L799.5 262.5L842.5 250.5L885.5 250.5L927.5 250.5" stroke="#00cc00" stroke-width="3" fill="none" stroke-linejoin="round"/><circle cx="30.5" cy="388.8" r="3.5" fill="#ffff00" stroke="#00cc00" stroke-width="1.0"/><circle cx="73.5" cy="300.8" r="3.5" fill="#ffff00" stroke="#00cc00" stroke-width="1.0"/><circle cx="115.5" cy="288.8" r="3.5" fill="#ffff00" stroke="#00cc00" stroke-width="1.0"/><circle cx="158.5" cy="288.8" r="3.5" fill="#ffff00" stroke="#00cc00" stroke-width="1.0"/><circle cx="201.5" cy="275.8" r="3.5" fill="#ffff00" stroke="#00cc00" stroke-width="1.0"/><circle cx="244.5" cy="275.8" r="3.5" fill="#ffff00" stroke="#00cc00" stroke-width="1.0"/><circle cx="286.5" cy="288.8" r="3.5" fill="#ffff00" stroke="#00cc00" stroke-width="1.0"/><circle cx="329.5" cy="288.8" r="3.5" fill="#ffff00" stroke="#00cc00" stroke-width="1.0"/><circle cx="372.5" cy="300.8" r="3.5" fill="#ffff00" stroke="#00cc00" stroke-width="1.0"/><circle cx="415.5" cy="300.8" r="3.5" fill="#ffff00" stroke="#00cc00" stroke-width="1.0"/><circle cx="457.5" cy="288.8" r="3.5" fill="#ffff00" stroke="#00cc00" stroke-width="1.0"/><circle cx="500.5" cy="262.8" r="3.5" fill="#ffff00" stroke="#00cc00" stroke-width="1.0"/><circle cx="543.5" cy="262.8" r="3.5" fill="#ffff00" stroke="#00cc00" stroke-width="1.0"/><circle cx="585.5" cy="262.8" r="3.5" fill="#ffff00" stroke="#00cc00" stroke-width="1.0"/><circle cx="628.5" cy="262.8" r="3.5" fill="#ffff00" stroke="#00cc00" stroke-width="1.0"/><circle cx="671.5" cy="262.8" r="3.5" fill="#ffff00" stroke="#00cc00" stroke-width="1.0"/><circle cx="714.5" cy="288.8" r="3.5" fill="#ffff00" stroke="#00cc00" stroke-width="1.0"/><circle cx="756.5" cy="262.8" r="3.5" fill="#ffff00" stroke="#00cc00" stroke-width="1.0"/><circle cx="799.5" cy="262.8" r="3.5" fill="#ffff00" stroke="#00cc00" stroke-width="1.0"/><circle cx="842.5" cy="250.8" r="3.5" fill="#ffff00" stroke="#00cc00" stroke-width="1.0"/><circle cx="885.5" cy="250.8" r="3.5" fill="#ffff00" stroke="#00cc00" stroke-width="1.0"/><circle cx="927.5" cy="250.8" r="3.5" fill="#ffff00" stroke="#00cc00" stroke-width="1.0"/>
<path d="M30.5 338.5L73.5 400.5L115.5 400.5L158.5 375.5L201.5 362.5L244.5 362.5L286.5 350.5L329.5 350.5L372.5 350.5L415.5 350.5L457.5 350.5L500.5 325.5L543.5 325.5L585.5 325.5L628.5 312.5L671.5 300.5L714.5 300.5L756.5 275.5L799.5 275.5L842.5 262.5L885.5 262.5L927.5 262.5" stroke="#0000ff" stroke-width="3" fill="none" stroke-linejoin="round"/><circle cx="30.5" cy="338.8" r="3.5" fill="#ffff00" stroke="#0000ff" stroke-width="1.0"/><circle cx="73.5" cy="400.8" r="3.5" fill="#ffff00" stroke="#0000ff" stroke-width="1.0"/><circle cx="115.5" cy="400.8" r="3.5" fill="#ffff00" stroke="#0000ff" stroke-width="1.0"/><circle cx="158.5" cy="375.8" r="3.5" fill="#ffff00" stroke="#0000ff" stroke-width="1.0"/><circle cx="201.5" cy="362.8" r="3.5" fill="#ffff00" stroke="#0000ff" stroke-width="1.0"/><circle cx="244.5" cy="362.8" r="3.5" fill="#ffff00" stroke="#0000ff" stroke-width="1.0"/><circle cx="286.5" cy="350.8" r="3.5" fill="#ffff00" stroke="#0000ff" stroke-width="1.0"/><circle cx="329.5" cy="350.8" r="3.5" fill="#ffff00" stroke="#0000ff" stroke-width="1.0"/><circle cx="372.5" cy="350.8" r="3.5" fill="#ffff00" stroke="#0000ff" stroke-width="1.0"/><circle cx="415.5" cy="350.8" r="3.5" fill="#ffff00" stroke="#0000ff" stroke-width="1.0"/><circle cx="457.5" cy="350.8" r="3.5" fill="#ffff00" stroke="#0000ff" stroke-width="1.0"/><circle cx="500.5" cy="325.8" r="3.5" fill="#ffff00" stroke="#0000ff" stroke-width="1.0"/><circle cx="543.5" cy="325.8" r="3.5" fill="#ffff00" stroke="#0000ff" stroke-width="1.0"/><circle cx="585.5" cy="325.8" r="3.5" fill="#ffff00" stroke="#0000ff" stroke-width="1.0"/><circle cx="628.5" cy="312.8" r="3.5" fill="#ffff00" stroke="#0000ff" stroke-width="1.0"/><circle cx="671.5" cy="300.8" r="3.5" fill="#ffff00" stroke="#0000ff" stroke-width="1.0"/><circle cx="714.5" cy="300.8" r="3.5" fill="#ffff00" stroke="#0000ff" stroke-width="1.0"/><circle cx="756.5" cy="275.8" r="3.5" fill="#ffff00" stroke="#0000ff" stroke-width="1.0"/><circle cx="799.5" cy="275.8" r="3.5" fill="#ffff00" stroke="#0000ff" stroke-width="1.0"/><circle cx="842.5" cy="262.8" r="3.5" fill="#ffff00" stroke="#0000ff" stroke-width="1.0"/><circle cx="885.5" cy="262.8" r="3.5" fill="#ffff00" stroke="#0000ff" stroke-width="1.0"/><circle cx="927.5" cy="262.8" r="3.5" fill="#ffff00" stroke="#0000ff" stroke-width="1.0"/>
<path d="M30.5 288.5L73.5 250.5L115.5 212.5L158.5 212.5L201.5 212.5L244.5 212.5L286.5 212.5L329.5 225.5L372.5 225.5L415.5 225.5L457.5 225.5L500.5 212.5L543.5 300.5L585.5 300.5L628.5 288.5L671.5 288.5L714.5 275.5L756.5 300.5L799.5 300.5L842.5 288.5L885.5 288.5L927.5 275.5" stroke="#cc33ff" stroke-width="3" fill="none" stroke-linejoin="round"/><circle cx="30.5" cy="288.8" r="3.5" fill="#ffff00" stroke="#cc33ff" stroke-width="1.0"/><circle cx="73.5" cy="250.8" r="3.5" fill="#ffff00" stroke="#cc33ff" stroke-width="1.0"/><circle cx="115.5" cy="212.8" r="3.5" fill="#ffff00" stroke="#cc33ff" stroke-width="1.0"/><circle cx="158.5" cy="212.8" r="3.5" fill="#ffff00" stroke="#cc33ff" stroke-width="1.0"/><circle cx="201.5" cy="212.8" r="3.5" fill="#ffff00" stroke="#cc33ff" stroke-width="1.0"/><circle cx="244.5" cy="212.8" r="3.5" fill="#ffff00" stroke="#cc33ff" stroke-width="1.0"/><circle cx="286.5" cy="212.8" r="3.5" fill="#ffff00" stroke="#cc33ff" stroke-width="1.0"/><circle cx="329.5" cy="225.8" r="3.5" fill="#ffff00" stroke="#cc33ff" stroke-width="1.0"/><circle cx="372.5" cy="225.8" r="3.5" fill="#ffff00" stroke="#cc33ff" stroke-width="1.0"/><circle cx="415.5" cy="225.8" r="3.5" fill="#ffff00" stroke="#cc33ff" stroke-width="1.0"/><circle cx="457.5" cy="225.8" r="3.5" fill="#ffff00" stroke="#cc33ff" stroke-width="1.0"/><circle cx="500.5" cy="212.8" r="3.5" fill="#ffff00" stroke="#cc33ff" stroke-width="1.0"/><circle cx="543.5" cy="300.8" r="3.5" fill="#ffff00" stroke="#cc33ff" stroke-width="1.0"/><circle cx="585.5" cy="300.8" r="3.5" fill="#ffff00" stroke="#cc33ff" stroke-width="1.0"/><circle cx="628.5" cy="288.8" r="3.5" fill="#ffff00" stroke="#cc33ff" stroke-width="1.0"/><circle cx="671.5" cy="288.8" r="3.5" fill="#ffff00" stroke="#cc33ff" stroke-width="1.0"/><circle cx="714.5" cy="275.8" r="3.5" fill="#ffff00" stroke="#cc33ff" stroke-width="1.0"/><circle cx="756.5" cy="300.8" r="3.5" fill="#ffff00" stroke="#cc33ff" stroke-width="1.0"/><circle cx="799.5" cy="300.8" r="3.5" fill="#ffff00" stroke="#cc33ff" stroke-width="1.0"/><circle cx="842.5" cy="288.8" r="3.5" fill="#ffff00" stroke="#cc33ff" stroke-width="1.0"/><circle cx="885.5" cy="288.8" r="3.5" fill="#ffff00" stroke="#cc33ff" stroke-width="1.0"/><circle cx="927.5" cy="275.8" r="3.5" fill="#ffff00" stroke="#cc33ff" stroke-width="1.0"/>
<path d="M30.5 375.5L73.5 325.5L115.5 300.5L158.5 400.5L201.5 388.5L244.5 388.5L286.5 362.5L329.5 362.5L372.5 362.5L415.5 362.5L457.5 362.5L500.5 338.5L543.5 338.5L585.5 338.5L628.5 325.5L671.5 312.5L714.5 312.5L756.5 288.5L799.5 288.5L842.5 275.5L885.5 275.5L927.5 288.5" stroke="#ff88aa" stroke-width="3" fill="none" stroke-linejoin="round"/><circle cx="30.5" cy="375.8" r="3.5" fill="#ffff00" stroke="#ff88aa" stroke-width="1.0"/><circle cx="73.5" cy="325.8" r="3.5" fill="#ffff00" stroke="#ff88aa" stroke-width="1.0"/><circle cx="115.5" cy="300.8" r="3.5" fill="#ffff00" stroke="#ff88aa" stroke-width="1.0"/><circle cx="158.5" cy="400.8" r="3.5" fill="#ffff00" stroke="#ff88aa" stroke-width="1.0"/><circle cx="201.5" cy="388.8" r="3.5" fill="#ffff00" stroke="#ff88aa" stroke-width="1.0"/><circle cx="244.5" cy="388.8" r="3.5" fill="#ffff00" stroke="#ff88aa" stroke-width="1.0"/><circle cx="286.5" cy="362.8" r="3.5" fill="#ffff00" stroke="#ff88aa" stroke-width="1.0"/><circle cx="329.5" cy="362.8" r="3.5" fill="#ffff00" stroke="#ff88aa" stroke-width="1.0"/><circle cx="372.5" cy="362.8" r="3.5" fill="#ffff00" stroke="#ff88aa" stroke-width="1.0"/><circle cx="415.5" cy="362.8" r="3.5" fill="#ffff00" stroke="#ff88aa" stroke-width="1.0"/><circle cx="457.5" cy="362.8" r="3.5" fill="#ffff00" stroke="#ff88aa" stroke-width="1.0"/><circle cx="500.5" cy="338.8" r="3.5" fill="#ffff00" stroke="#ff88aa" stroke-width="1.0"/><circle cx="543.5" cy="338.8" r="3.5" fill="#ffff00" stroke="#ff88aa" stroke-width="1.0"/><circle cx="585.5" cy="338.8" r="3.5" fill="#ffff00" stroke="#ff88aa" stroke-width="1.0"/><circle cx="628.5" cy="325.8" r="3.5" fill="#ffff00" stroke="#ff88aa" stroke-width="1.0"/><circle cx="671.5" cy="312.8" r="3.5" fill="#ffff00" stroke="#ff88aa" stroke-width="1.0"/><circle cx="714.5" cy="312.8" r="3.5" fill="#ffff00" stroke="#ff88aa" stroke-width="1.0"/><circle cx="756.5" cy="288.8" r="3.5" fill="#ffff00" stroke="#ff88aa" stroke-width="1.0"/><circle cx="799.5" cy="288.8" r="3.5" fill="#ffff00" stroke="#ff88aa" stroke-width="1.0"/><circle cx="842.5" cy="275.8" r="3.5" fill="#ffff00" stroke="#ff88aa" stroke-width="1.0"/><circle cx="885.5" cy="275.8" r="3.5" fill="#ffff00" stroke="#ff88aa" stroke-width="1.0"/><circle cx="927.5" cy="288.8" r="3.5" fill="#ffff00" stroke="#ff88aa" stroke-width="1.0"/>
<path d="M30.5 250.5L73.5 200.5L115.5 188.5L158.5 188.5L201.5 175.5L244.5 175.5L286.5 175.5L329.5 175.5L372.5 175.5L415.5 162.5L457.5 162.5L500.5 150.5L543.5 125.5L585.5 125.5L628.5 188.5L671.5 212.5L714.5 225.5L756.5 212.5L799.5 250.5L842.5 312.5L885.5 300.5L927.5 300.5" stroke="#1e8c1e" stroke-width="3" fill="none" stroke-linejoin="round"/><circle cx="30.5" cy="250.8" r="3.5" fill="#ffff00" stroke="#1e8c1e" stroke-width="1.0"/><circle cx="73.5" cy="200.8" r="3.5" fill="#ffff00" stroke="#1e8c1e" stroke-width="1.0"/><circle cx="115.5" cy="188.8" r="3.5" fill="#ffff00" stroke="#1e8c1e" stroke-width="1.0"/><circle cx="158.5" cy="188.8" r="3.5" fill="#ffff00" stroke="#1e8c1e" stroke-width="1.0"/><circle cx="201.5" cy="175.8" r="3.5" fill="#ffff00" stroke="#1e8c1e" stroke-width="1.0"/><circle cx="244.5" cy="175.8" r="3.5" fill="#ffff00" stroke="#1e8c1e" stroke-width="1.0"/><circle cx="286.5" cy="175.8" r="3.5" fill="#ffff00" stroke="#1e8c1e" stroke-width="1.0"/><circle cx="329.5" cy="175.8" r="3.5" fill="#ffff00" stroke="#1e8c1e" stroke-width="1.0"/><circle cx="372.5" cy="175.8" r="3.5" fill="#ffff00" stroke="#1e8c1e" stroke-width="1.0"/><circle cx="415.5" cy="162.8" r="3.5" fill="#ffff00" stroke="#1e8c1e" stroke-width="1.0"/><circle cx="457.5" cy="162.8" r="3.5" fill="#ffff00" stroke="#1e8c1e" stroke-width="1.0"/><circle cx="500.5" cy="150.8" r="3.5" fill="#ffff00" stroke="#1e8c1e" stroke-width="1.0"/><circle cx="543.5" cy="125.8" r="3.5" fill="#ffff00" stroke="#1e8c1e" stroke-width="1.0"/><circle cx="585.5" cy="125.8" r="3.5" fill="#ffff00" stroke="#1e8c1e" stroke-width="1.0"/><circle cx="628.5" cy="188.8" r="3.5" fill="#ffff00" stroke="#1e8c1e" stroke-width="1.0"/><circle cx="671.5" cy="212.8" r="3.5" fill="#ffff00" stroke="#1e8c1e" stroke-width="1.0"/><circle cx="714.5" cy="225.8" r="3.5" fill="#ffff00" stroke="#1e8c1e" stroke-width="1.0"/><circle cx="756.5" cy="212.8" r="3.5" fill="#ffff00" stroke="#1e8c1e" stroke-width="1.0"/><circle cx="799.5" cy="250.8" r="3.5" fill="#ffff00" stroke="#1e8c1e" stroke-width="1.0"/><circle cx="842.5" cy="312.8" r="3.5" fill="#ffff00" stroke="#1e8c1e" stroke-width="1.0"/><circle cx="885.5" cy="300.8" r="3.5" fill="#ffff00" stroke="#1e8c1e" stroke-width="1.0"/><circle cx="927.5" cy="300.8" r="3.5" fill="#ffff00" stroke="#1e8c1e" stroke-width="1.0"/>
<path d="M30.5 225.5L73.5 188.5L115.5 362.5L158.5 362.5L201.5 338.5L244.5 338.5L286.5 338.5L329.5 338.5L372.5 338.5L415.5 338.5L457.5 338.5L500.5 300.5L543.5 288.5L585.5 288.5L628.5 300.5L671.5 325.5L714.5 325.5L756.5 312.5L799.5 312.5L842.5 300.5L885.5 312.5L927.5 312.5" stroke="#0a9bff" stroke-width="3" fill="none" stroke-linejoin="round"/><circle cx="30.5" cy="225.8" r="3.5" fill="#ffff00" stroke="#0a9bff" stroke-width="1.0"/><circle cx="73.5" cy="188.8" r="3.5" fill="#ffff00" stroke="#0a9bff" stroke-width="1.0"/><circle cx="115.5" cy="362.8" r="3.5" fill="#ffff00" stroke="#0a9bff" stroke-width="1.0"/><circle cx="158.5" cy="362.8" r="3.5" fill="#ffff00" stroke="#0a9bff" stroke-width="1.0"/><circle cx="201.5" cy="338.8" r="3.5" fill="#ffff00" stroke="#0a9bff" stroke-width="1.0"/><circle cx="244.5" cy="338.8" r="3.5" fill="#ffff00" stroke="#0a9bff" stroke-width="1.0"/><circle cx="286.5" cy="338.8" r="3.5" fill="#ffff00" stroke="#0a9bff" stroke-width="1.0"/><circle cx="329.5" cy="338.8" r="3.5" fill="#ffff00" stroke="#0a9bff" stroke-width="1.0"/><circle cx="372.5" cy="338.8" r="3.5" fill="#ffff00" stroke="#0a9bff" stroke-width="1.0"/><circle cx="415.5" cy="338.8" r="3.5" fill="#ffff00" stroke="#0a9bff" stroke-width="1.0"/><circle cx="457.5" cy="338.8" r="3.5" fill="#ffff00" stroke="#0a9bff" stroke-width="1.0"/><circle cx="500.5" cy="300.8" r="3.5" fill="#ffff00" stroke="#0a9bff" stroke-width="1.0"/><circle cx="543.5" cy="288.8" r="3.5" fill="#ffff00" stroke="#0a9bff" stroke-width="1.0"/><circle cx="585.5" cy="288.8" r="3.5" fill="#ffff00" stroke="#0a9bff" stroke-width="1.0"/><circle cx="628.5" cy="300.8" r="3.5" fill="#ffff00" stroke="#0a9bff" stroke-width="1.0"/><circle cx="671.5" cy="325.8" r="3.5" fill="#ffff00" stroke="#0a9bff" stroke-width="1.0"/><circle cx="714.5" cy="325.8" r="3.5" fill="#ffff00" stroke="#0a9bff" stroke-width="1.0"/><circle cx="756.5" cy="312.8" r="3.5" fill="#ffff00" stroke="#0a9bff" stroke-width="1.0"/><circle cx="799.5" cy="312.8" r="3.5" fill="#ffff00" stroke="#0a9bff" stroke-width="1.0"/><circle cx="842.5" cy="300.8" r="3.5" fill="#ffff00" stroke="#0a9bff" stroke-width="1.0"/><circle cx="885.5" cy="312.8" r="3.5" fill="#ffff00" stroke="#0a9bff" stroke-width="1.0"/><circle cx="927.5" cy="312.8" r="3.5" fill="#ffff00" stroke="#0a9bff" stroke-width="1.0"/>
<path d="M30.5 400.5L73.5 350.5L115.5 388.5L158.5 388.5L201.5 375.5L244.5 375.5L286.5 375.5L329.5 375.5L372.5 375.5L415.5 375.5L457.5 375.5L500.5 350.5L543.5 350.5L585.5 350.5L628.5 350.5L671.5 338.5L714.5 338.5L756.5 325.5L799.5 325.5L842.5 325.5L885.5 325.5" stroke="#dddd00" stroke-width="3" fill="none" stroke-linejoin="round"/><circle cx="30.5" cy="400.8" r="3.5" fill="#ffff00" stroke="#dddd00" stroke-width="1.0"/><circle cx="73.5" cy="350.8" r="3.5" fill="#ffff00" stroke="#dddd00" stroke-width="1.0"/><circle cx="115.5" cy="388.8" r="3.5" fill="#ffff00" stroke="#dddd00" stroke-width="1.0"/><circle cx="158.5" cy="388.8" r="3.5" fill="#ffff00" stroke="#dddd00" stroke-width="1.0"/><circle cx="201.5" cy="375.8" r="3.5" fill="#ffff00" stroke="#dddd00" stroke-width="1.0"/><circle cx="244.5" cy="375.8" r="3.5" fill="#ffff00" stroke="#dddd00" stroke-width="1.0"/><circle cx="286.5" cy="375.8" r="3.5" fill="#ffff00" stroke="#dddd00" stroke-width="1.0"/><circle cx="329.5" cy="375.8" r="3.5" fill="#ffff00" stroke="#dddd00" stroke-width="1.0"/><circle cx="372.5" cy="375.8" r="3.5" fill="#ffff00" stroke="#dddd00" stroke-width="1.0"/><circle cx="415.5" cy="375.8" r="3.5" fill="#ffff00" stroke="#dddd00" stroke-width="1.0"/><circle cx="457.5" cy="375.8" r="3.5" fill="#ffff00" stroke="#dddd00" stroke-width="1.0"/><circle cx="500.5" cy="350.8" r="3.5" fill="#ffff00" stroke="#dddd00" stroke-width="1.0"/><circle cx="543.5" cy="350.8" r="3.5" fill="#ffff00" stroke="#dddd00" stroke-width="1.0"/><circle cx="585.5" cy="350.8" r="3.5" fill="#ffff00" stroke="#dddd00" stroke-width="1.0"/><circle cx="628.5" cy="350.8" r="3.5" fill="#ffff00" stroke="#dddd00" stroke-width="1.0"/><circle cx="671.5" cy="338.8" r="3.5" fill="#ffff00" stroke="#dddd00" stroke-width="1.0"/><circle cx="714.5" cy="338.8" r="3.5" fill="#ffff00" stroke="#dddd00" stroke-width="1.0"/><circle cx="756.5" cy="325.8" r="3.5" fill="#ffff00" stroke="#dddd00" stroke-width="1.0"/><circle cx="799.5" cy="325.8" r="3.5" fill="#ffff00" stroke="#dddd00" stroke-width="1.0"/><circle cx="842.5" cy="325.8" r="3.5" fill="#ffff00" stroke="#dddd00" stroke-width="1.0"/><circle cx="885.5" cy="325.8" r="3.5" fill="#ffff00" stroke="#dddd00" stroke-width="1.0"/>
<path d="M30.5 362.5L73.5 338.5L115.5 338.5L158.5 338.5L201.5 412.5L244.5 412.5L286.5 400.5L329.5 388.5L372.5 400.5L415.5 388.5L457.5 388.5L500.5 362.5L543.5 362.5L585.5 362.5L628.5 362.5L671.5 350.5L714.5 350.5L756.5 338.5L799.5 338.5L842.5 338.5" stroke="#993399" stroke-width="3" fill="none" stroke-linejoin="round"/><circle cx="30.5" cy="362.8" r="3.5" fill="#ffff00" stroke="#993399" stroke-width="1.0"/><circle cx="73.5" cy="338.8" r="3.5" fill="#ffff00" stroke="#993399" stroke-width="1.0"/><circle cx="115.5" cy="338.8" r="3.5" fill="#ffff00" stroke="#993399" stroke-width="1.0"/><circle cx="158.5" cy="338.8" r="3.5" fill="#ffff00" stroke="#993399" stroke-width="1.0"/><circle cx="201.5" cy="412.8" r="3.5" fill="#ffff00" stroke="#993399" stroke-width="1.0"/><circle cx="244.5" cy="412.8" r="3.5" fill="#ffff00" stroke="#993399" stroke-width="1.0"/><circle cx="286.5" cy="400.8" r="3.5" fill="#ffff00" stroke="#993399" stroke-width="1.0"/><circle cx="329.5" cy="388.8" r="3.5" fill="#ffff00" stroke="#993399" stroke-width="1.0"/><circle cx="372.5" cy="400.8" r="3.5" fill="#ffff00" stroke="#993399" stroke-width="1.0"/><circle cx="415.5" cy="388.8" r="3.5" fill="#ffff00" stroke="#993399" stroke-width="1.0"/><circle cx="457.5" cy="388.8" r="3.5" fill="#ffff00" stroke="#993399" stroke-width="1.0"/><circle cx="500.5" cy="362.8" r="3.5" fill="#ffff00" stroke="#993399" stroke-width="1.0"/><circle cx="543.5" cy="362.8" r="3.5" fill="#ffff00" stroke="#993399" stroke-width="1.0"/><circle cx="585.5" cy="362.8" r="3.5" fill="#ffff00" stroke="#993399" stroke-width="1.0"/><circle cx="628.5" cy="362.8" r="3.5" fill="#ffff00" stroke="#993399" stroke-width="1.0"/><circle cx="671.5" cy="350.8" r="3.5" fill="#ffff00" stroke="#993399" stroke-width="1.0"/><circle cx="714.5" cy="350.8" r="3.5" fill="#ffff00" stroke="#993399" stroke-width="1.0"/><circle cx="756.5" cy="338.8" r="3.5" fill="#ffff00" stroke="#993399" stroke-width="1.0"/><circle cx="799.5" cy="338.8" r="3.5" fill="#ffff00" stroke="#993399" stroke-width="1.0"/><circle cx="842.5" cy="338.8" r="3.5" fill="#ffff00" stroke="#993399" stroke-width="1.0"/>
<path d="M30.5 188.5L73.5 175.5L115.5 175.5L158.5 175.5L201.5 188.5L244.5 188.5L286.5 200.5L329.5 200.5L372.5 200.5L415.5 188.5L457.5 200.5L500.5 188.5L543.5 225.5L585.5 225.5L628.5 225.5L671.5 225.5L714.5 212.5" stroke="#0000bb" stroke-width="3" fill="none" stroke-linejoin="round"/><circle cx="30.5" cy="188.8" r="3.5" fill="#ffff00" stroke="#0000bb" stroke-width="1.0"/><circle cx="73.5" cy="175.8" r="3.5" fill="#ffff00" stroke="#0000bb" stroke-width="1.0"/><circle cx="115.5" cy="175.8" r="3.5" fill="#ffff00" stroke="#0000bb" stroke-width="1.0"/><circle cx="158.5" cy="175.8" r="3.5" fill="#ffff00" stroke="#0000bb" stroke-width="1.0"/><circle cx="201.5" cy="188.8" r="3.5" fill="#ffff00" stroke="#0000bb" stroke-width="1.0"/><circle cx="244.5" cy="188.8" r="3.5" fill="#ffff00" stroke="#0000bb" stroke-width="1.0"/><circle cx="286.5" cy="200.8" r="3.5" fill="#ffff00" stroke="#0000bb" stroke-width="1.0"/><circle cx="329.5" cy="200.8" r="3.5" fill="#ffff00" stroke="#0000bb" stroke-width="1.0"/><circle cx="372.5" cy="200.8" r="3.5" fill="#ffff00" stroke="#0000bb" stroke-width="1.0"/><circle cx="415.5" cy="188.8" r="3.5" fill="#ffff00" stroke="#0000bb" stroke-width="1.0"/><circle cx="457.5" cy="200.8" r="3.5" fill="#ffff00" stroke="#0000bb" stroke-width="1.0"/><circle cx="500.5" cy="188.8" r="3.5" fill="#ffff00" stroke="#0000bb" stroke-width="1.0"/><circle cx="543.5" cy="225.8" r="3.5" fill="#ffff00" stroke="#0000bb" stroke-width="1.0"/><circle cx="585.5" cy="225.8" r="3.5" fill="#ffff00" stroke="#0000bb" stroke-width="1.0"/><circle cx="628.5" cy="225.8" r="3.5" fill="#ffff00" stroke="#0000bb" stroke-width="1.0"/><circle cx="671.5" cy="225.8" r="3.5" fill="#ffff00" stroke="#0000bb" stroke-width="1.0"/><circle cx="714.5" cy="212.8" r="3.5" fill="#ffff00" stroke="#0000bb" stroke-width="1.0"/>
<path d="M30.5 300.5L73.5 262.5L115.5 262.5L158.5 250.5L201.5 350.5L244.5 350.5L286.5 325.5L329.5 325.5L372.5 325.5L415.5 325.5L457.5 325.5L500.5 312.5L543.5 312.5L585.5 312.5L628.5 338.5" stroke="#999999" stroke-width="3" fill="none" stroke-linejoin="round"/><circle cx="30.5" cy="300.8" r="3.5" fill="#ffff00" stroke="#999999" stroke-width="1.0"/><circle cx="73.5" cy="262.8" r="3.5" fill="#ffff00" stroke="#999999" stroke-width="1.0"/><circle cx="115.5" cy="262.8" r="3.5" fill="#ffff00" stroke="#999999" stroke-width="1.0"/><circle cx="158.5" cy="250.8" r="3.5" fill="#ffff00" stroke="#999999" stroke-width="1.0"/><circle cx="201.5" cy="350.8" r="3.5" fill="#ffff00" stroke="#999999" stroke-width="1.0"/><circle cx="244.5" cy="350.8" r="3.5" fill="#ffff00" stroke="#999999" stroke-width="1.0"/><circle cx="286.5" cy="325.8" r="3.5" fill="#ffff00" stroke="#999999" stroke-width="1.0"/><circle cx="329.5" cy="325.8" r="3.5" fill="#ffff00" stroke="#999999" stroke-width="1.0"/><circle cx="372.5" cy="325.8" r="3.5" fill="#ffff00" stroke="#999999" stroke-width="1.0"/><circle cx="415.5" cy="325.8" r="3.5" fill="#ffff00" stroke="#999999" stroke-width="1.0"/><circle cx="457.5" cy="325.8" r="3.5" fill="#ffff00" stroke="#999999" stroke-width="1.0"/><circle cx="500.5" cy="312.8" r="3.5" fill="#ffff00" stroke="#999999" stroke-width="1.0"/><circle cx="543.5" cy="312.8" r="3.5" fill="#ffff00" stroke="#999999" stroke-width="1.0"/><circle cx="585.5" cy="312.8" r="3.5" fill="#ffff00" stroke="#999999" stroke-width="1.0"/><circle cx="628.5" cy="338.8" r="3.5" fill="#ffff00" stroke="#999999" stroke-width="1.0"/>
<path d="M30.5 412.5L73.5 312.5L115.5 412.5L158.5 412.5L201.5 400.5L244.5 400.5L286.5 388.5L329.5 400.5L372.5 388.5L415.5 400.5L457.5 400.5L500.5 375.5L543.5 375.5L585.5 375.5L628.5 375.5" stroke="#333333" stroke-width="3" fill="none" stroke-linejoin="round"/><circle cx="30.5" cy="412.8" r="3.5" fill="#ffff00" stroke="#333333" stroke-width="1.0"/><circle cx="73.5" cy="312.8" r="3.5" fill="#ffff00" stroke="#333333" stroke-width="1.0"/><circle cx="115.5" cy="412.8" r="3.5" fill="#ffff00" stroke="#333333" stroke-width="1.0"/><circle cx="158.5" cy="412.8" r="3.5" fill="#ffff00" stroke="#333333" stroke-width="1.0"/><circle cx="201.5" cy="400.8" r="3.5" fill="#ffff00" stroke="#333333" stroke-width="1.0"/><circle cx="244.5" cy="400.8" r="3.5" fill="#ffff00" stroke="#333333" stroke-width="1.0"/><circle cx="286.5" cy="388.8" r="3.5" fill="#ffff00" stroke="#333333" stroke-width="1.0"/><circle cx="329.5" cy="400.8" r="3.5" fill="#ffff00" stroke="#333333" stroke-width="1.0"/><circle cx="372.5" cy="388.8" r="3.5" fill="#ffff00" stroke="#333333" stroke-width="1.0"/><circle cx="415.5" cy="400.8" r="3.5" fill="#ffff00" stroke="#333333" stroke-width="1.0"/><circle cx="457.5" cy="400.8" r="3.5" fill="#ffff00" stroke="#333333" stroke-width="1.0"/><circle cx="500.5" cy="375.8" r="3.5" fill="#ffff00" stroke="#333333" stroke-width="1.0"/><circle cx="543.5" cy="375.8" r="3.5" fill="#ffff00" stroke="#333333" stroke-width="1.0"/><circle cx="585.5" cy="375.8" r="3.5" fill="#ffff00" stroke="#333333" stroke-width="1.0"/><circle cx="628.5" cy="375.8" r="3.5" fill="#ffff00" stroke="#333333" stroke-width="1.0"/>
<path d="M30.5 50.5L73.5 75.5L115.5 75.5L158.5 75.5L201.5 75.5L244.5 75.5L286.5 62.5L329.5 62.5L372.5 62.5L415.5 62.5L457.5 62.5" stroke="#33cccc" stroke-width="3" fill="none" stroke-linejoin="round"/><circle cx="30.5" cy="50.8" r="3.5" fill="#ffff00" stroke="#33cccc" stroke-width="1.0"/><circle cx="73.5" cy="75.8" r="3.5" fill="#ffff00" stroke="#33cccc" stroke-width="1.0"/><circle cx="115.5" cy="75.8" r="3.5" fill="#ffff00" stroke="#33cccc" stroke-width="1.0"/><circle cx="158.5" cy="75.8" r="3.5" fill="#ffff00" stroke="#33cccc" stroke-width="1.0"/><circle cx="201.5" cy="75.8" r="3.5" fill="#ffff00" stroke="#33cccc" stroke-width="1.0"/><circle cx="244.5" cy="75.8" r="3.5" fill="#ffff00" stroke="#33cccc" stroke-width="1.0"/><circle cx="286.5" cy="62.8" r="3.5" fill="#ffff00" stroke="#33cccc" stroke-width="1.0"/><circle cx="329.5" cy="62.8" r="3.5" fill="#ffff00" stroke="#33cccc" stroke-width="1.0"/><circle cx="372.5" cy="62.8" r="3.5" fill="#ffff00" stroke="#33cccc" stroke-width="1.0"/><circle cx="415.5" cy="62.8" r="3.5" fill="#ffff00" stroke="#33cccc" stroke-width="1.0"/><circle cx="457.5" cy="62.8" r="3.5" fill="#ffff00" stroke="#33cccc" stroke-width="1.0"/>
<path d="M30.5 312.5L73.5 212.5L115.5 225.5L158.5 225.5L201.5 225.5L244.5 225.5L286.5 225.5L329.5 238.5L372.5 238.5L415.5 262.5L457.5 262.5" stroke="#a0cc66" stroke-width="3" fill="none" stroke-linejoin="round"/><circle cx="30.5" cy="312.8" r="3.5" fill="#ffff00" stroke="#a0cc66" stroke-width="1.0"/><circle cx="73.5" cy="212.8" r="3.5" fill="#ffff00" stroke="#a0cc66" stroke-width="1.0"/><circle cx="115.5" cy="225.8" r="3.5" fill="#ffff00" stroke="#a0cc66" stroke-width="1.0"/><circle cx="158.5" cy="225.8" r="3.5" fill="#ffff00" stroke="#a0cc66" stroke-width="1.0"/><circle cx="201.5" cy="225.8" r="3.5" fill="#ffff00" stroke="#a0cc66" stroke-width="1.0"/><circle cx="244.5" cy="225.8" r="3.5" fill="#ffff00" stroke="#a0cc66" stroke-width="1.0"/><circle cx="286.5" cy="225.8" r="3.5" fill="#ffff00" stroke="#a0cc66" stroke-width="1.0"/><circle cx="329.5" cy="238.8" r="3.5" fill="#ffff00" stroke="#a0cc66" stroke-width="1.0"/><circle cx="372.5" cy="238.8" r="3.5" fill="#ffff00" stroke="#a0cc66" stroke-width="1.0"/><circle cx="415.5" cy="262.8" r="3.5" fill="#ffff00" stroke="#a0cc66" stroke-width="1.0"/><circle cx="457.5" cy="262.8" r="3.5" fill="#ffff00" stroke="#a0cc66" stroke-width="1.0"/>
<path d="M30.5 162.5L73.5 375.5L115.5 312.5L158.5 312.5L201.5 300.5L244.5 300.5" stroke="#7f7f38" stroke-width="3" fill="none" stroke-linejoin="round"/><circle cx="30.5" cy="162.8" r="3.5" fill="#ffff00" stroke="#7f7f38" stroke-width="1.0"/><circle cx="73.5" cy="375.8" r="3.5" fill="#ffff00" stroke="#7f7f38" stroke-width="1.0"/><circle cx="115.5" cy="312.8" r="3.5" fill="#ffff00" stroke="#7f7f38" stroke-width="1.0"/><circle cx="158.5" cy="312.8" r="3.5" fill="#ffff00" stroke="#7f7f38" stroke-width="1.0"/><circle cx="201.5" cy="300.8" r="3.5" fill="#ffff00" stroke="#7f7f38" stroke-width="1.0"/><circle cx="244.5" cy="300.8" r="3.5" fill="#ffff00" stroke="#7f7f38" stroke-width="1.0"/>
</svg></body></html>
